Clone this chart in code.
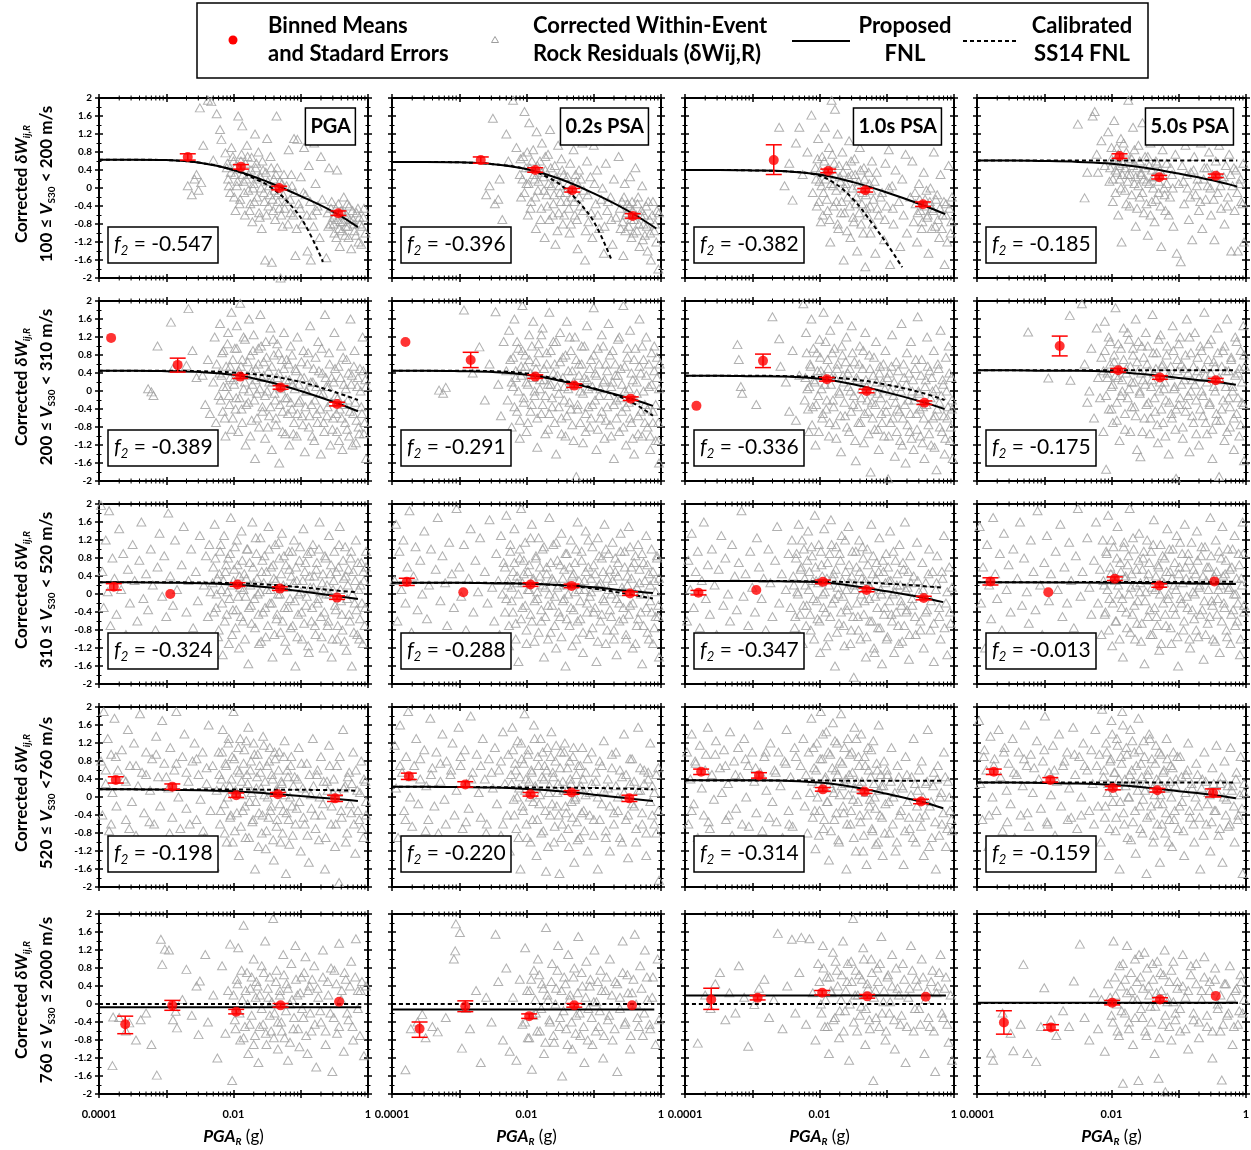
<!DOCTYPE html>
<html><head><meta charset="utf-8">
<script src="https://cdn.jsdelivr.net/npm/echarts@6/dist/echarts.min.js"></script>
<style>html,body{margin:0;padding:0;background:#fff}#c{width:1251px;height:1150px}</style>
</head><body><div id="c"></div>
<script>
// ---------- DATA (x values are log10 of PGA_R in g) ----------
const periods = ['PGA', '0.2s PSA', '1.0s PSA', '5.0s PSA'];
const vsLow = ['100', '200', '310', '520', '760'];
const vsHigh = [' < 200 m/s', ' < 310 m/s', ' < 520 m/s', ' <760 m/s', ' \u2264 2000 m/s'];
const f2Row1 = ['-0.547', '-0.396', '-0.382', '-0.185'];
const f2Row2 = ['-0.389', '-0.291', '-0.336', '-0.175'];
const f2Row3 = ['-0.324', '-0.288', '-0.347', '-0.013'];
const f2Row4 = ['-0.198', '-0.220', '-0.314', '-0.159'];
const xTickLabels = ['0.0001', '0.01', '1'];

// corrected within-event rock residuals [log10 PGA, residual] - outer/sparse points
const tri11 = [[-2.68,0.05],[-2.62,-0.15],[-2.58,0.2],[-2.55,0.3],[-2.52,-0.05],[-2.48,0.12],[-2.45,0.95],[-2.5,1.78],[-2.38,1.95],[-2.33,1.92],[-2.3,0.62],[-2.25,1.65],[-2.2,1.3],[-2.18,1.08],[-2.12,0.78],[-2.1,0.45],[-2.08,0.2],[-2.05,-0.1],[-2.03,0.9],[-2.0,0.6],[-1.98,0.3],[-1.97,-0.5],[-1.95,0.05],[-1.93,1.6],[-1.92,0.42],[-1.9,-0.25],[-1.88,0.75],[-1.87,1.38],[-1.85,0.15],[-1.83,-0.6],[-1.82,0.55],[-1.8,0.95],[-1.78,-0.05],[-1.77,0.3],[-1.75,-0.35],[-1.73,0.68],[-1.72,-0.75],[-1.7,0.1],[-1.68,1.2],[-1.67,0.45],[-1.65,-0.2],[-1.63,0.8],[-1.62,-0.55],[-1.6,0.25],[-1.58,-0.9],[-1.57,0.6],[-1.55,-0.1],[-1.53,-1.6],[-1.52,0.35],[-1.5,1.1],[-1.48,-0.4],[-1.47,0.05],[-1.45,0.7],[-1.43,-1.65],[-1.42,-0.25],[-1.4,0.2],[-1.38,-0.7],[-1.36,1.6],[-1.35,0.45],[-1.33,-0.1],[-1.32,-0.45],[-1.3,-2.0],[-1.28,0.1],[-1.27,-0.85],[-1.25,0.3],[-1.22,-0.3],[-1.18,0.85],[-1.15,-0.55],[-1.13,0.05],[-1.1,1.1],[-1.08,-1.5],[-1.05,1.08],[-1.03,-0.35],[-1.0,0.25],[-0.98,-0.8],[-0.95,0.9],[-0.93,-0.15],[-0.9,-1.4],[-0.88,0.5],[-0.85,-1.6],[-0.83,-0.6],[-0.8,1.0],[-0.78,0.1],[-0.75,-0.4],[-0.72,-1.1],[-0.7,0.7],[-0.68,-0.25],[-0.62,-1.55],[-0.6,-0.55],[-0.58,0.45],[-0.56,-0.8],[-0.54,-0.3],[-0.52,-0.65],[-0.5,-1.0],[-0.48,-0.45],[-0.46,0.4],[-0.45,-0.7],[-0.43,-0.9],[-0.42,-1.3],[-0.4,-0.5],[-0.38,-0.75],[-0.36,-0.2],[-0.34,-1.05],[-0.32,-0.6],[-0.3,-0.85],[-0.28,-0.4],[-0.25,-1.35],[-0.22,-0.7],[-0.2,-0.95],[-0.17,-0.55],[-0.14,-1.2],[-0.12,-0.8],[-0.1,-1.25],[-0.07,-0.65],[-0.04,-1.0]];
const tri12 = [[-2.6,-0.15],[-2.55,0.05],[-2.5,1.55],[-2.47,-0.35],[-2.42,-0.25],[-2.4,0.2],[-2.36,-0.7],[-2.3,1.2],[-2.27,0.6],[-2.2,1.95],[-2.15,0.9],[-2.1,0.3],[-2.08,-0.2],[-2.05,0.7],[-2.03,1.7],[-2.0,0.1],[-1.98,-0.6],[-1.96,1.45],[-1.95,0.45],[-1.93,-0.3],[-1.9,0.85],[-1.88,0.2],[-1.86,-0.9],[-1.85,1.25],[-1.83,-0.05],[-1.8,0.6],[-1.78,-0.45],[-1.77,1.0],[-1.75,0.25],[-1.73,-1.1],[-1.72,0.4],[-1.7,-0.15],[-1.68,0.75],[-1.66,-0.7],[-1.65,1.3],[-1.63,0.05],[-1.6,-0.35],[-1.58,0.5],[-1.57,-1.25],[-1.55,0.2],[-1.53,0.95],[-1.52,-0.55],[-1.5,-0.1],[-1.48,0.65],[-1.46,-0.8],[-1.45,0.3],[-1.43,1.15],[-1.4,-0.3],[-1.38,0.1],[-1.36,-1.0],[-1.35,0.55],[-1.33,-0.2],[-1.3,0.85],[-1.28,-0.6],[-1.26,0.15],[-1.24,-1.35],[-1.22,0.4],[-1.2,-0.4],[-1.17,1.0],[-1.15,-0.05],[-1.13,-1.6],[-1.1,0.6],[-1.08,-0.75],[-1.05,0.25],[-1.02,-1.1],[-1.0,0.95],[-0.97,-0.35],[-0.95,0.4],[-0.92,-0.9],[-0.9,1.2],[-0.87,0.0],[-0.85,-1.45],[-0.82,0.55],[-0.8,-0.5],[-0.77,1.05],[-0.75,-0.2],[-0.72,-1.25],[-0.7,0.2],[-0.67,-0.65],[-0.63,0.7],[-0.6,-0.9],[-0.58,-0.3],[-0.56,-1.5],[-0.54,0.1],[-0.52,-0.6],[-0.5,-0.35],[-0.48,-0.85],[-0.46,0.25],[-0.44,-1.1],[-0.42,-0.5],[-0.4,-0.7],[-0.38,0.45],[-0.36,-0.95],[-0.34,-0.2],[-0.32,-1.3],[-0.3,-0.6],[-0.28,0.05],[-0.26,-0.8],[-0.24,-1.05],[-0.22,-0.4],[-0.2,-1.4],[-0.17,-0.7],[-0.15,-1.6],[-0.12,-0.3],[-0.1,-0.95],[-0.07,-1.2],[-0.04,-1.8],[-0.03,-0.55]];
const tri13 = [[-2.6,1.35],[-2.52,0.05],[-2.45,0.55],[-2.4,-0.27],[-2.35,1.0],[-2.3,1.35],[-2.25,0.3],[-2.18,0.8],[-2.12,1.62],[-2.1,-0.1],[-2.06,0.45],[-2.04,-0.4],[-2.02,1.1],[-2.0,0.15],[-1.98,-0.75],[-1.96,0.7],[-1.94,-0.1],[-1.92,1.35],[-1.9,0.35],[-1.88,-0.5],[-1.86,0.9],[-1.84,-1.2],[-1.82,1.95],[-1.8,0.05],[-1.78,0.55],[-1.77,1.75],[-1.75,-0.3],[-1.73,1.2],[-1.72,-0.9],[-1.7,0.25],[-1.68,-0.55],[-1.66,0.8],[-1.64,-1.6],[-1.62,0.0],[-1.6,0.5],[-1.58,-0.2],[-1.56,1.05],[-1.54,-1.1],[-1.52,0.3],[-1.5,-0.65],[-1.48,0.65],[-1.46,-0.35],[-1.44,-1.4],[-1.42,0.15],[-1.4,0.9],[-1.38,-0.8],[-1.36,-0.1],[-1.34,0.45],[-1.32,-1.75],[-1.3,-0.45],[-1.28,1.3],[-1.26,0.1],[-1.24,-1.0],[-1.22,0.6],[-1.2,-0.25],[-1.17,-1.45],[-1.15,0.35],[-1.12,-0.6],[-1.1,1.1],[-1.07,-0.1],[-1.04,-1.15],[-1.02,0.55],[-1.0,-0.4],[-0.97,0.85],[-0.95,-1.7],[-0.92,0.05],[-0.9,-0.8],[-0.87,0.4],[-0.85,1.3],[-0.82,-0.3],[-0.8,-1.3],[-0.77,0.2],[-0.75,-0.6],[-0.72,0.75],[-0.7,-1.0],[-0.65,-0.2],[-0.62,0.6],[-0.6,-0.75],[-0.57,-0.35],[-0.55,-1.2],[-0.52,0.1],[-0.5,-0.5],[-0.48,-0.9],[-0.45,0.35],[-0.43,-0.25],[-0.4,-0.65],[-0.38,-1.45],[-0.35,0.0],[-0.33,-0.45],[-0.3,0.8],[-0.28,-0.85],[-0.25,-0.15],[-0.22,-1.1],[-0.2,0.3],[-0.17,-0.6],[-0.14,-1.7],[-0.12,-0.35],[-0.08,0.5],[-0.05,-1.0],[-0.03,-0.2]];
const tri14 = [[-2.5,1.42],[-2.4,-0.22],[-2.36,0.35],[-2.28,1.6],[-2.25,1.7],[-2.22,0.75],[-2.2,0.35],[-2.15,1.05],[-2.1,0.5],[-2.05,1.25],[-2.03,0.15],[-2.0,0.65],[-1.98,-0.3],[-1.96,1.5],[-1.94,0.4],[-1.92,0.9],[-1.9,-0.6],[-1.88,0.2],[-1.86,1.1],[-1.85,-1.2],[-1.83,0.55],[-1.8,-0.05],[-1.78,0.8],[-1.76,0.3],[-1.75,1.95],[-1.73,-0.4],[-1.7,0.65],[-1.68,1.35],[-1.66,0.1],[-1.64,-0.85],[-1.62,0.45],[-1.6,0.95],[-1.58,-0.2],[-1.56,0.3],[-1.54,1.45],[-1.52,-0.55],[-1.5,0.7],[-1.48,0.15],[-1.46,-1.05],[-1.44,0.5],[-1.42,1.0],[-1.4,-0.3],[-1.38,0.25],[-1.36,-0.75],[-1.34,0.6],[-1.32,1.2],[-1.3,-0.1],[-1.28,0.4],[-1.26,-1.3],[-1.24,0.85],[-1.22,0.0],[-1.2,-0.5],[-1.18,0.55],[-1.15,1.3],[-1.13,-0.2],[-1.1,0.3],[-1.08,-0.85],[-1.05,0.75],[-1.03,-1.45],[-1.0,0.1],[-0.97,-1.64],[-0.95,0.5],[-0.92,-0.35],[-0.9,0.95],[-0.87,0.0],[-0.85,-0.7],[-0.82,0.35],[-0.8,-1.15],[-0.77,0.7],[-0.75,-0.15],[-0.72,0.2],[-0.7,-0.5],[-0.67,1.0],[-0.65,-0.9],[-0.62,0.45],[-0.6,-0.25],[-0.57,0.05],[-0.55,0.8],[-0.52,-0.6],[-0.5,0.3],[-0.47,-1.15],[-0.45,0.6],[-0.42,-0.1],[-0.4,0.95],[-0.37,-0.45],[-0.35,0.2],[-0.32,-0.8],[-0.3,0.5],[-0.27,-0.2],[-0.25,0.75],[-0.22,-1.4],[-0.2,0.05],[-0.17,-0.5],[-0.15,0.4],[-0.12,-1.4],[-0.1,0.1],[-0.07,-0.3],[-0.04,0.55],[-0.03,-1.2]];
const tri21 = [[-3.27,0.05],[-3.22,-0.02],[-3.19,-0.1],[-3.13,1.0],[-2.93,1.53],[-2.9,0.5],[-2.7,0.57],[-2.67,1.83],[-2.61,0.9],[-2.55,0.3],[-2.46,0.35],[-2.42,-0.3],[-2.38,0.7],[-2.35,-0.5],[-2.3,0.2],[-2.28,1.2],[-2.26,-0.7],[-2.25,0.6],[-2.22,-0.1],[-2.2,1.5],[-2.18,0.35],[-2.16,-0.45],[-2.15,0.9],[-2.12,-1.0],[-2.1,0.1],[-2.08,1.3],[-2.06,-0.3],[-2.05,0.55],[-2.03,1.75],[-2.01,-0.6],[-2.0,0.25],[-1.98,0.95],[-1.96,-0.15],[-1.95,1.45],[-1.93,-0.9],[-1.92,0.45],[-1.9,1.95],[-1.88,-0.4],[-1.87,0.7],[-1.85,0.05],[-1.83,1.15],[-1.82,-1.2],[-1.8,0.35],[-1.78,-0.25],[-1.77,1.6],[-1.75,0.8],[-1.73,-0.65],[-1.72,0.15],[-1.7,1.25],[-1.68,-1.5],[-1.67,0.5],[-1.65,-0.05],[-1.63,0.95],[-1.62,-0.8],[-1.6,1.7],[-1.58,0.3],[-1.57,-0.35],[-1.55,0.65],[-1.53,-1.05],[-1.52,1.1],[-1.5,0.0],[-1.48,0.45],[-1.47,-0.55],[-1.45,1.4],[-1.43,-1.3],[-1.42,0.2],[-1.4,0.8],[-1.38,-0.2],[-1.37,-0.75],[-1.35,1.05],[-1.33,0.4],[-1.32,-1.6],[-1.3,0.05],[-1.28,0.7],[-1.27,-0.45],[-1.25,1.3],[-1.23,-0.95],[-1.22,0.25],[-1.2,-0.15],[-1.18,0.6],[-1.17,-1.2],[-1.15,1.0],[-1.13,-0.4],[-1.12,0.15],[-1.1,-0.7],[-1.08,0.5],[-1.06,-1.0],[-1.05,1.2],[-1.03,-0.25],[-1.0,0.3],[-0.98,-0.55],[-0.96,0.9],[-0.94,-1.35],[-0.92,0.0],[-0.9,0.6],[-0.88,-0.8],[-0.86,1.45],[-0.84,-0.3],[-0.82,0.2],[-0.8,-1.1],[-0.78,0.75],[-0.76,-0.5],[-0.74,1.1],[-0.72,-0.05],[-0.7,-1.4],[-0.68,0.4],[-0.66,-0.7],[-0.64,1.7],[-0.62,0.1],[-0.6,-0.35],[-0.58,0.85],[-0.56,-1.2],[-0.54,0.3],[-0.52,-0.6],[-0.5,1.3],[-0.48,-0.1],[-0.46,-0.9],[-0.44,0.55],[-0.42,-0.4],[-0.4,1.0],[-0.38,-1.3],[-0.36,0.15],[-0.34,-0.7],[-0.32,0.7],[-0.3,-0.2],[-0.28,-1.0],[-0.26,1.6],[-0.24,0.35],[-0.22,-0.5],[-0.2,0.9],[-0.18,-1.15],[-0.16,0.1],[-0.14,-0.8],[-0.12,0.5],[-0.1,-0.35],[-0.08,1.2],[-0.06,-0.95],[-0.04,0.25],[-0.03,-1.5]];
const tri22 = [[-3.3,0.02],[-3.24,-0.05],[-3.2,0.08],[-2.93,1.8],[-2.8,0.4],[-2.7,0.98],[-2.62,-0.2],[-2.55,0.6],[-2.46,1.76],[-2.42,0.15],[-2.38,-0.55],[-2.34,1.1],[-2.3,0.45],[-2.28,-0.2],[-2.26,1.35],[-2.24,0.7],[-2.22,-0.8],[-2.2,0.1],[-2.18,1.6],[-2.16,0.3],[-2.14,-0.45],[-2.12,0.95],[-2.1,-1.05],[-2.08,0.55],[-2.06,1.9],[-2.04,-0.15],[-2.02,0.8],[-2.0,0.2],[-1.98,-0.7],[-1.96,1.25],[-1.94,0.4],[-1.92,-0.3],[-1.9,1.55],[-1.88,0.0],[-1.86,0.65],[-1.84,-1.25],[-1.82,1.05],[-1.8,0.25],[-1.78,-0.5],[-1.76,1.4],[-1.74,0.5],[-1.72,-0.1],[-1.7,0.85],[-1.68,-0.85],[-1.66,1.75],[-1.64,0.15],[-1.62,-0.35],[-1.6,1.1],[-1.58,0.6],[-1.56,-1.4],[-1.54,0.35],[-1.52,-0.05],[-1.5,1.3],[-1.48,-0.6],[-1.46,0.75],[-1.44,0.1],[-1.42,-1.0],[-1.4,1.55],[-1.38,0.45],[-1.36,-0.25],[-1.34,0.9],[-1.32,-0.75],[-1.3,0.2],[-1.28,1.2],[-1.26,-1.9],[-1.24,-0.4],[-1.22,0.6],[-1.2,0.0],[-1.18,1.0],[-1.16,-1.15],[-1.14,0.3],[-1.12,-0.5],[-1.1,1.45],[-1.08,0.05],[-1.06,-0.8],[-1.04,0.7],[-1.02,-0.3],[-1.0,1.85],[-0.98,0.4],[-0.96,-1.3],[-0.94,0.95],[-0.92,-0.1],[-0.9,-0.6],[-0.88,1.25],[-0.86,0.2],[-0.84,-1.05],[-0.82,0.6],[-0.8,-0.35],[-0.78,1.5],[-0.76,-0.75],[-0.74,0.1],[-0.72,0.9],[-0.7,-1.5],[-0.68,0.35],[-0.66,-0.2],[-0.64,1.15],[-0.62,-0.9],[-0.6,0.5],[-0.58,-0.45],[-0.56,1.9],[-0.54,0.0],[-0.52,-1.2],[-0.5,0.75],[-0.48,-0.25],[-0.46,1.35],[-0.44,-0.7],[-0.42,0.25],[-0.4,-1.4],[-0.38,0.95],[-0.36,-0.05],[-0.34,-0.55],[-0.32,1.6],[-0.3,0.4],[-0.28,-1.0],[-0.26,0.7],[-0.24,-0.3],[-0.22,1.2],[-0.2,-0.8],[-0.18,0.1],[-0.16,-1.3],[-0.14,0.85],[-0.12,-0.45],[-0.1,1.0],[-0.08,-1.1],[-0.06,0.3],[-0.04,-0.7],[-0.03,-1.6],[-0.02,0.6]];
const tri23 = [[-3.22,1.03],[-3.2,0.7],[-3.17,0.1],[-3.15,-0.05],[-2.94,-0.3],[-2.7,1.65],[-2.6,1.16],[-2.58,0.55],[-2.5,0.2],[-2.45,-0.45],[-2.4,0.9],[-2.35,-0.65],[-2.3,0.35],[-2.24,1.94],[-2.22,-0.2],[-2.2,1.3],[-2.18,0.05],[-2.16,-0.9],[-2.14,0.6],[-2.12,1.6],[-2.1,-0.35],[-2.08,0.25],[-2.06,-1.2],[-2.04,0.85],[-2.02,-0.1],[-2.0,1.15],[-1.98,0.45],[-1.96,-0.6],[-1.94,1.75],[-1.92,0.15],[-1.9,-0.4],[-1.88,0.7],[-1.86,-1.0],[-1.84,1.35],[-1.82,0.3],[-1.8,-0.2],[-1.78,0.95],[-1.76,-0.75],[-1.74,0.5],[-1.72,1.6],[-1.7,-0.05],[-1.68,-1.35],[-1.66,0.8],[-1.64,0.2],[-1.62,-0.55],[-1.6,1.2],[-1.58,0.4],[-1.56,-0.9],[-1.54,0.0],[-1.52,1.45],[-1.5,-0.3],[-1.48,0.65],[-1.46,-1.55],[-1.44,0.25],[-1.42,-0.7],[-1.4,1.0],[-1.38,-0.15],[-1.36,0.5],[-1.34,-1.15],[-1.32,1.3],[-1.3,0.1],[-1.28,-0.45],[-1.26,0.8],[-1.24,-1.8],[-1.22,-0.25],[-1.2,0.35],[-1.18,-0.85],[-1.16,1.1],[-1.14,-0.05],[-1.12,-1.3],[-1.1,0.55],[-1.08,-0.5],[-1.06,0.2],[-1.04,-1.0],[-1.02,0.9],[-1.0,-0.3],[-0.98,-1.95],[-0.96,0.4],[-0.94,-0.7],[-0.92,1.25],[-0.9,-0.1],[-0.88,-1.45],[-0.86,0.65],[-0.84,-0.4],[-0.82,0.1],[-0.8,-1.1],[-0.78,1.5],[-0.76,-0.6],[-0.74,0.3],[-0.72,-1.6],[-0.7,0.85],[-0.68,-0.2],[-0.66,-0.9],[-0.64,1.1],[-0.62,0.0],[-0.6,-1.3],[-0.58,0.5],[-0.56,-0.5],[-0.54,1.65],[-0.52,-0.05],[-0.5,-1.0],[-0.48,0.7],[-0.46,-0.35],[-0.44,-1.5],[-0.42,0.25],[-0.4,1.2],[-0.38,-0.75],[-0.36,0.45],[-0.34,-1.2],[-0.32,0.0],[-0.3,0.9],[-0.28,-0.55],[-0.26,-1.75],[-0.24,0.6],[-0.22,-0.25],[-0.2,1.35],[-0.18,-0.9],[-0.16,0.15],[-0.14,-1.4],[-0.12,0.75],[-0.1,-0.6],[-0.08,1.0],[-0.06,-1.1],[-0.04,0.3],[-0.03,-0.4],[-0.02,-1.5]];
const tri24 = [[-3.24,1.31],[-2.94,0.29],[-2.62,1.68],[-2.61,0.24],[-2.44,1.94],[-2.4,0.6],[-2.36,-0.25],[-2.33,0.0],[-2.3,0.95],[-2.26,-0.6],[-2.22,1.4],[-2.2,0.3],[-2.17,-0.15],[-2.15,0.75],[-2.12,-0.9],[-2.1,1.55],[-2.08,-1.74],[-2.06,0.4],[-2.04,-0.4],[-2.02,1.1],[-2.0,0.1],[-1.98,-0.7],[-1.96,0.65],[-1.94,1.85],[-1.92,-0.25],[-1.9,0.3],[-1.88,-1.1],[-1.86,0.95],[-1.84,0.0],[-1.82,1.4],[-1.8,-0.5],[-1.78,0.5],[-1.76,-0.15],[-1.74,1.15],[-1.72,-0.9],[-1.7,0.2],[-1.68,0.8],[-1.66,-0.35],[-1.64,1.6],[-1.62,-1.3],[-1.6,0.45],[-1.58,-0.05],[-1.57,-1.46],[-1.55,1.0],[-1.53,0.25],[-1.51,-0.6],[-1.49,1.3],[-1.47,0.6],[-1.45,-0.25],[-1.43,-0.95],[-1.41,0.1],[-1.39,1.7],[-1.37,0.4],[-1.35,-0.45],[-1.33,0.85],[-1.31,-1.15],[-1.29,0.0],[-1.27,1.25],[-1.25,0.55],[-1.23,-0.7],[-1.21,0.2],[-1.19,-0.2],[-1.17,1.0],[-1.15,-1.4],[-1.13,0.35],[-1.11,-0.5],[-1.09,1.45],[-1.07,0.05],[-1.05,-0.85],[-1.04,-1.94],[-1.02,0.7],[-1.0,-0.3],[-0.98,1.2],[-0.96,0.15],[-0.94,-1.05],[-0.92,0.5],[-0.9,-0.45],[-0.88,1.6],[-0.86,-0.1],[-0.84,-1.35],[-0.82,0.85],[-0.8,0.25],[-0.78,-0.7],[-0.76,1.3],[-0.74,-0.2],[-0.72,0.45],[-0.7,-1.2],[-0.68,1.0],[-0.66,0.0],[-0.64,-0.55],[-0.62,1.75],[-0.6,0.35],[-0.58,-0.95],[-0.56,0.7],[-0.54,-0.3],[-0.52,1.15],[-0.5,-1.5],[-0.48,0.1],[-0.46,0.55],[-0.44,-0.65],[-0.42,1.4],[-0.4,-1.9],[-0.38,0.25],[-0.36,-0.4],[-0.34,0.9],[-0.32,-1.1],[-0.3,0.45],[-0.28,1.6],[-0.26,-0.15],[-0.24,-0.8],[-0.22,0.75],[-0.2,0.1],[-0.18,-1.3],[-0.16,1.2],[-0.14,-0.5],[-0.12,0.4],[-0.1,-1.0],[-0.08,0.9],[-0.06,-0.25],[-0.04,1.45],[-0.03,-1.55],[-0.02,0.55]];
const tri31 = [[-3.97,1.97],[-3.95,0.5],[-3.93,-0.3],[-3.9,1.2],[-3.87,0.05],[-3.85,1.85],[-3.83,-0.7],[-3.8,0.8],[-3.77,0.35],[-3.74,-0.45],[-3.7,1.45],[-3.67,0.1],[-3.64,0.9],[-3.6,-0.9],[-3.57,0.55],[-3.54,-0.2],[-3.5,1.1],[-3.47,0.3],[-3.43,-0.6],[-3.4,0.75],[-3.37,1.6],[-3.34,-0.1],[-3.3,0.45],[-3.27,-0.35],[-3.23,1.0],[-3.2,0.2],[-3.16,-0.8],[-3.13,0.6],[-3.1,1.35],[-3.06,-0.05],[-3.03,0.85],[-3.0,-0.5],[-2.97,1.8],[-2.94,0.4],[-2.9,-0.25],[-2.87,1.2],[-2.84,0.1],[-2.8,-1.1],[-2.77,0.65],[-2.74,1.5],[-2.7,-0.4],[-2.67,0.3],[-2.63,1.0],[-2.6,-0.75],[-2.56,0.5],[-2.53,-0.15],[-2.5,1.3],[-2.47,-1.5],[-2.44,0.2],[-2.41,0.85],[-2.38,-0.5],[-2.36,1.1],[-2.34,0.05],[-2.32,-1.0],[-2.3,0.6],[-2.28,1.55],[-2.26,-0.3],[-2.24,0.35],[-2.22,-0.8],[-2.2,0.95],[-2.18,0.1],[-2.16,-1.35],[-2.14,1.3],[-2.12,0.5],[-2.1,-0.45],[-2.08,0.8],[-2.06,-0.1],[-2.04,1.7],[-2.02,-0.9],[-2.0,0.3],[-1.98,1.05],[-1.96,-0.35],[-1.94,0.65],[-1.92,-1.2],[-1.9,0.15],[-1.88,1.4],[-1.86,-0.6],[-1.84,0.45],[-1.82,-0.05],[-1.8,1.0],[-1.78,-1.55],[-1.76,0.7],[-1.74,-0.25],[-1.72,1.6],[-1.7,0.25],[-1.68,-0.75],[-1.66,0.9],[-1.64,0.0],[-1.62,-1.1],[-1.6,1.25],[-1.58,0.5],[-1.56,-0.4],[-1.54,0.85],[-1.52,-0.95],[-1.5,0.1],[-1.48,1.5],[-1.46,-0.2],[-1.44,0.6],[-1.42,-1.4],[-1.4,0.35],[-1.38,1.1],[-1.36,-0.55],[-1.34,0.0],[-1.32,0.8],[-1.3,-0.85],[-1.28,1.35],[-1.26,0.2],[-1.24,-0.3],[-1.22,0.65],[-1.2,-1.25],[-1.18,0.95],[-1.16,-0.1],[-1.14,0.4],[-1.12,-0.7],[-1.1,1.2],[-1.08,-1.6],[-1.06,0.3],[-1.04,-0.45],[-1.02,0.75],[-1.0,0.05],[-0.98,-1.0],[-0.96,1.45],[-0.94,0.5],[-0.92,-0.25],[-0.9,0.9],[-0.88,-1.3],[-0.86,0.15],[-0.84,-0.6],[-0.82,1.1],[-0.8,0.4],[-0.78,-0.9],[-0.76,0.7],[-0.74,-0.1],[-0.72,1.6],[-0.7,-0.5],[-0.68,0.25],[-0.66,-1.2],[-0.64,0.85],[-0.62,0.0],[-0.6,-0.7],[-0.58,1.3],[-0.56,0.45],[-0.54,-1.4],[-0.52,0.1],[-0.5,0.95],[-0.48,-0.35],[-0.46,-1.0],[-0.44,0.6],[-0.42,1.5],[-0.4,-0.15],[-0.38,-0.8],[-0.36,0.35],[-0.34,1.05],[-0.32,-1.25],[-0.3,0.2],[-0.28,-0.45],[-0.26,0.8],[-0.24,-1.6],[-0.22,0.5],[-0.2,-0.2],[-0.18,1.2],[-0.16,-0.9],[-0.14,0.1],[-0.12,-0.55],[-0.1,0.7],[-0.08,-1.1],[-0.06,0.3],[-0.04,-0.3],[-0.03,0.95]];
const tri32 = [[-3.96,0.3],[-3.94,1.55],[-3.92,-0.6],[-3.89,0.95],[-3.86,0.1],[-3.83,1.2],[-3.8,-0.2],[-3.77,0.6],[-3.74,1.85],[-3.71,-0.85],[-3.68,0.4],[-3.65,1.05],[-3.62,-0.35],[-3.58,0.75],[-3.55,0.0],[-3.52,1.4],[-3.48,-0.55],[-3.45,0.2],[-3.42,1.0],[-3.38,-1.0],[-3.35,0.55],[-3.32,1.7],[-3.28,-0.15],[-3.25,0.85],[-3.21,0.25],[-3.18,-0.7],[-3.15,1.15],[-3.11,0.45],[-3.08,-0.3],[-3.04,1.9],[-3.0,0.6],[-2.97,-0.05],[-2.93,1.1],[-2.9,-0.8],[-2.86,0.35],[-2.83,1.45],[-2.79,-0.4],[-2.76,0.75],[-2.72,0.05],[-2.69,1.25],[-2.65,-1.3],[-2.62,0.5],[-2.58,-0.2],[-2.55,1.65],[-2.51,0.15],[-2.48,-0.6],[-2.45,0.9],[-2.42,0.3],[-2.4,-0.9],[-2.38,1.3],[-2.36,0.0],[-2.34,0.7],[-2.32,-0.4],[-2.3,1.75],[-2.28,0.2],[-2.26,-1.15],[-2.24,0.95],[-2.22,-0.15],[-2.2,0.5],[-2.18,1.45],[-2.16,-0.65],[-2.14,0.25],[-2.12,-1.5],[-2.1,0.8],[-2.08,1.9],[-2.06,-0.3],[-2.04,0.45],[-2.02,1.15],[-2.0,-0.8],[-1.98,0.1],[-1.96,0.65],[-1.94,-0.45],[-1.92,1.55],[-1.9,0.3],[-1.88,-1.05],[-1.86,0.85],[-1.84,-0.1],[-1.82,1.25],[-1.8,0.4],[-1.78,-0.6],[-1.76,1.0],[-1.74,-1.4],[-1.72,0.15],[-1.7,0.6],[-1.68,-0.25],[-1.66,1.7],[-1.64,-0.85],[-1.62,0.35],[-1.6,1.1],[-1.58,-0.05],[-1.56,-1.2],[-1.54,0.75],[-1.52,0.2],[-1.5,-0.5],[-1.48,1.35],[-1.46,-0.15],[-1.44,0.55],[-1.42,-1.6],[-1.4,0.9],[-1.38,0.0],[-1.36,-0.7],[-1.34,1.2],[-1.32,0.4],[-1.3,-0.35],[-1.28,0.7],[-1.26,-1.0],[-1.24,1.6],[-1.22,0.1],[-1.2,-0.55],[-1.18,0.95],[-1.16,-1.3],[-1.14,0.3],[-1.12,1.4],[-1.1,-0.2],[-1.08,0.6],[-1.06,-0.9],[-1.04,0.05],[-1.02,1.05],[-1.0,-0.4],[-0.98,0.45],[-0.96,-1.5],[-0.94,1.25],[-0.92,0.2],[-0.9,-0.6],[-0.88,0.8],[-0.86,-0.1],[-0.84,1.55],[-0.82,-1.1],[-0.8,0.35],[-0.78,0.9],[-0.76,-0.35],[-0.74,0.0],[-0.72,1.15],[-0.7,-0.8],[-0.68,0.5],[-0.66,-1.35],[-0.64,0.7],[-0.62,-0.2],[-0.6,1.35],[-0.58,0.15],[-0.56,-0.55],[-0.54,0.95],[-0.52,-1.0],[-0.5,0.4],[-0.48,1.5],[-0.46,-0.25],[-0.44,0.6],[-0.42,-1.2],[-0.4,0.05],[-0.38,0.85],[-0.36,-0.7],[-0.34,1.1],[-0.32,0.25],[-0.3,-0.4],[-0.28,-1.55],[-0.26,0.7],[-0.24,0.0],[-0.22,1.3],[-0.2,-0.85],[-0.18,0.45],[-0.16,-0.15],[-0.14,1.0],[-0.12,-1.1],[-0.1,0.3],[-0.08,-0.5],[-0.06,0.8],[-0.04,-0.25],[-0.03,-1.4]];
const tri33 = [[-3.97,-0.6],[-3.95,0.75],[-3.92,0.1],[-3.9,1.35],[-3.87,-0.3],[-3.84,0.5],[-3.81,0.95],[-3.78,-0.75],[-3.75,0.3],[-3.72,1.6],[-3.69,-0.1],[-3.66,0.65],[-3.63,-0.45],[-3.6,1.0],[-3.56,0.2],[-3.53,-0.9],[-3.5,0.55],[-3.46,1.3],[-3.43,-0.25],[-3.4,0.8],[-3.36,0.0],[-3.33,-0.6],[-3.3,1.1],[-3.26,0.4],[-3.23,-0.35],[-3.2,0.7],[-3.16,1.85],[-3.13,-0.05],[-3.1,0.45],[-3.06,-0.7],[-3.03,0.95],[-3.0,0.15],[-2.96,-0.4],[-2.93,1.25],[-2.9,0.6],[-2.86,-0.1],[-2.83,0.35],[-2.8,-0.8],[-2.76,1.0],[-2.73,0.25],[-2.7,-0.5],[-2.66,0.75],[-2.63,1.5],[-2.6,-0.2],[-2.56,0.45],[-2.53,-1.0],[-2.5,0.1],[-2.46,0.9],[-2.43,-0.3],[-2.41,1.2],[-2.39,0.4],[-2.37,-0.75],[-2.35,0.8],[-2.33,0.05],[-2.31,1.55],[-2.29,-0.45],[-2.27,0.6],[-2.25,-1.1],[-2.23,1.0],[-2.21,0.2],[-2.19,-0.25],[-2.17,1.4],[-2.15,0.5],[-2.13,-0.8],[-2.11,0.85],[-2.09,-0.1],[-2.07,1.75],[-2.05,0.3],[-2.03,-0.55],[-2.01,1.1],[-1.99,-1.3],[-1.97,0.65],[-1.95,0.0],[-1.93,1.45],[-1.91,-0.4],[-1.89,0.35],[-1.87,-0.95],[-1.85,0.9],[-1.83,1.65],[-1.81,-0.2],[-1.79,0.45],[-1.77,-1.6],[-1.75,1.05],[-1.73,0.15],[-1.71,-0.65],[-1.69,0.75],[-1.67,1.3],[-1.65,-0.05],[-1.63,-1.15],[-1.61,0.5],[-1.59,-0.35],[-1.57,1.5],[-1.55,0.25],[-1.53,-0.8],[-1.51,0.95],[-1.49,-1.85],[-1.47,0.1],[-1.45,0.6],[-1.43,-0.5],[-1.41,1.2],[-1.39,-1.0],[-1.37,0.35],[-1.35,0.8],[-1.33,-0.15],[-1.31,-1.4],[-1.29,1.0],[-1.27,0.2],[-1.25,-0.6],[-1.23,1.55],[-1.21,0.45],[-1.19,-1.2],[-1.17,-0.05],[-1.15,0.7],[-1.13,-0.75],[-1.11,1.25],[-1.09,0.1],[-1.07,-1.55],[-1.05,0.5],[-1.03,-0.3],[-1.01,0.9],[-0.99,-0.95],[-0.97,0.3],[-0.95,1.4],[-0.93,-0.45],[-0.91,0.0],[-0.89,-1.3],[-0.87,0.75],[-0.85,0.2],[-0.83,-0.7],[-0.81,1.1],[-0.79,-0.15],[-0.77,-1.05],[-0.75,0.55],[-0.73,1.6],[-0.71,-0.4],[-0.69,0.15],[-0.67,-1.45],[-0.65,0.85],[-0.62,-0.25],[-0.6,0.4],[-0.57,-0.9],[-0.55,1.15],[-0.52,0.05],[-0.5,-0.6],[-0.47,0.7],[-0.45,-1.2],[-0.42,0.25],[-0.4,-0.35],[-0.37,1.0],[-0.35,-0.8],[-0.32,0.5],[-0.3,-1.5],[-0.27,0.1],[-0.25,0.85],[-0.22,-0.5],[-0.2,-1.0],[-0.17,0.35],[-0.15,1.3],[-0.12,-0.2],[-0.1,-1.35],[-0.07,0.6],[-0.05,-0.65],[-0.03,0.15]];
const tri34 = [[-3.96,1.5],[-3.94,-0.2],[-3.91,0.6],[-3.88,-1.2],[-3.85,1.1],[-3.82,0.2],[-3.79,-0.55],[-3.76,1.7],[-3.73,0.45],[-3.7,-0.1],[-3.66,0.9],[-3.63,-0.8],[-3.6,1.35],[-3.56,0.1],[-3.53,0.65],[-3.5,-0.4],[-3.46,1.0],[-3.43,-1.5],[-3.4,0.35],[-3.36,1.6],[-3.33,-0.25],[-3.3,0.8],[-3.26,0.05],[-3.23,-0.65],[-3.2,1.2],[-3.16,0.5],[-3.13,-0.35],[-3.1,1.85],[-3.06,0.2],[-3.03,-0.9],[-3.0,0.7],[-2.96,1.3],[-2.93,-0.15],[-2.9,0.45],[-2.86,-1.1],[-2.83,0.95],[-2.8,0.1],[-2.76,1.55],[-2.73,-0.5],[-2.7,0.6],[-2.66,-0.2],[-2.63,1.15],[-2.6,0.3],[-2.56,-0.75],[-2.53,0.85],[-2.5,1.9],[-2.46,-0.05],[-2.43,0.5],[-2.4,-1.3],[-2.36,1.25],[-2.33,0.15],[-2.3,-0.45],[-2.26,0.75],[-2.23,1.6],[-2.2,-0.2],[-2.17,0.55],[-2.15,-0.9],[-2.13,1.2],[-2.11,0.2],[-2.09,-0.4],[-2.07,0.9],[-2.05,1.75],[-2.03,-0.1],[-2.01,0.45],[-1.99,-1.15],[-1.97,1.05],[-1.95,0.3],[-1.93,-0.6],[-1.91,1.5],[-1.89,0.0],[-1.87,0.7],[-1.85,-0.3],[-1.83,-1.4],[-1.81,1.15],[-1.79,0.4],[-1.77,-0.75],[-1.75,0.85],[-1.73,1.9],[-1.71,0.15],[-1.69,-0.45],[-1.67,1.0],[-1.65,-1.0],[-1.63,0.55],[-1.61,-0.15],[-1.59,1.35],[-1.57,0.25],[-1.55,-0.65],[-1.53,0.8],[-1.51,-1.55],[-1.49,0.05],[-1.47,1.2],[-1.45,0.45],[-1.43,-0.35],[-1.41,0.95],[-1.39,-0.9],[-1.37,1.65],[-1.35,0.1],[-1.33,-0.5],[-1.31,0.65],[-1.29,-1.25],[-1.27,1.1],[-1.25,0.3],[-1.23,-0.2],[-1.21,0.8],[-1.19,-0.7],[-1.17,1.45],[-1.15,0.0],[-1.13,0.5],[-1.11,-1.1],[-1.09,1.0],[-1.07,0.2],[-1.05,-0.45],[-1.03,1.3],[-1.01,-1.6],[-0.99,0.6],[-0.97,-0.1],[-0.95,0.9],[-0.93,-0.8],[-0.91,1.55],[-0.89,0.35],[-0.87,-0.3],[-0.85,0.75],[-0.83,-1.2],[-0.81,1.15],[-0.79,0.05],[-0.77,-0.55],[-0.75,0.45],[-0.73,1.4],[-0.71,-0.95],[-0.69,0.2],[-0.67,0.85],[-0.65,-0.35],[-0.63,-1.45],[-0.61,1.05],[-0.59,0.3],[-0.57,-0.65],[-0.55,0.6],[-0.53,1.7],[-0.51,-0.15],[-0.49,-1.0],[-0.47,0.4],[-0.45,1.2],[-0.43,-0.45],[-0.41,0.1],[-0.39,-1.3],[-0.37,0.8],[-0.35,1.5],[-0.33,-0.2],[-0.31,0.45],[-0.29,-0.8],[-0.27,1.0],[-0.25,0.15],[-0.23,-1.1],[-0.21,0.6],[-0.19,-0.35],[-0.17,1.3],[-0.15,0.0],[-0.13,-0.6],[-0.11,0.9],[-0.09,-1.35],[-0.07,0.35],[-0.05,1.6],[-0.03,-0.25]];
const tri41 = [[-3.97,0.8],[-3.95,-0.4],[-3.93,1.9],[-3.9,0.3],[-3.87,1.3],[-3.85,-0.75],[-3.82,0.95],[-3.8,0.1],[-3.77,1.75],[-3.74,-0.2],[-3.72,0.6],[-3.69,-1.05],[-3.66,1.05],[-3.63,0.4],[-3.6,-0.5],[-3.57,1.5],[-3.54,0.7],[-3.51,-0.1],[-3.48,1.2],[-3.45,-0.85],[-3.42,0.25],[-3.39,1.85],[-3.36,0.55],[-3.33,-0.35],[-3.3,1.0],[-3.27,-1.4],[-3.24,0.15],[-3.21,0.85],[-3.18,-0.6],[-3.15,1.35],[-3.12,0.45],[-3.09,-0.2],[-3.06,1.7],[-3.03,0.75],[-3.0,-0.95],[-2.97,0.2],[-2.94,1.1],[-2.91,-0.45],[-2.88,0.6],[-2.85,1.9],[-2.82,0.0],[-2.79,-0.7],[-2.76,0.9],[-2.73,1.4],[-2.7,-0.25],[-2.67,0.35],[-2.64,-1.2],[-2.61,0.8],[-2.58,1.2],[-2.55,-0.5],[-2.52,0.5],[-2.49,-0.05],[-2.46,1.0],[-2.43,-0.9],[-2.4,0.3],[-2.37,1.6],[-2.34,-0.3],[-2.31,0.7],[-2.28,-1.55],[-2.25,0.15],[-2.22,1.0],[-2.2,-0.6],[-2.18,0.4],[-2.16,1.5],[-2.14,-0.15],[-2.12,0.75],[-2.1,-1.0],[-2.08,1.2],[-2.06,0.25],[-2.04,-0.4],[-2.02,0.9],[-2.0,1.9],[-1.98,-0.75],[-1.96,0.1],[-1.94,0.6],[-1.92,-1.3],[-1.9,1.3],[-1.88,0.35],[-1.86,-0.3],[-1.84,1.05],[-1.82,-0.9],[-1.8,0.5],[-1.78,1.55],[-1.76,-0.1],[-1.74,0.8],[-1.72,-0.55],[-1.7,1.2],[-1.68,-1.6],[-1.66,0.2],[-1.64,0.95],[-1.62,-0.35],[-1.6,0.55],[-1.58,-0.8],[-1.56,1.35],[-1.54,0.05],[-1.52,-1.15],[-1.5,0.7],[-1.48,-0.45],[-1.46,1.1],[-1.44,-0.2],[-1.42,0.4],[-1.4,-1.4],[-1.38,0.85],[-1.36,-0.65],[-1.34,0.15],[-1.32,1.0],[-1.3,-1.0],[-1.28,0.3],[-1.26,-0.3],[-1.24,1.25],[-1.22,-1.7],[-1.2,0.6],[-1.18,-0.5],[-1.16,0.0],[-1.14,0.9],[-1.12,-0.85],[-1.09,0.45],[-1.06,-0.25],[-1.03,1.1],[-1.0,-1.2],[-0.97,0.2],[-0.94,-0.6],[-0.91,0.75],[-0.88,-1.45],[-0.85,0.05],[-0.82,1.3],[-0.79,-0.4],[-0.76,0.5],[-0.73,-0.95],[-0.7,0.9],[-0.67,-0.15],[-0.64,-1.6],[-0.61,0.35],[-0.58,1.15],[-0.55,-0.6],[-0.52,0.1],[-0.49,-1.1],[-0.46,0.7],[-0.43,-1.9],[-0.4,-0.3],[-0.37,1.5],[-0.34,0.25],[-0.31,-0.8],[-0.28,0.55],[-0.25,-0.35],[-0.22,1.0],[-0.19,-1.25],[-0.16,0.15],[-0.13,-0.5],[-0.1,0.8],[-0.07,-0.9],[-0.04,0.35],[-0.03,-0.1]];
const tri42 = [[-3.96,1.15],[-3.94,0.2],[-3.91,-0.9],[-3.88,1.6],[-3.85,0.55],[-3.82,-0.3],[-3.79,0.9],[-3.76,1.9],[-3.73,0.0],[-3.7,-0.65],[-3.67,0.7],[-3.64,1.3],[-3.61,-0.15],[-3.58,0.4],[-3.55,-1.1],[-3.52,1.05],[-3.49,0.25],[-3.46,-0.5],[-3.43,1.75],[-3.4,0.65],[-3.37,-0.2],[-3.34,1.0],[-3.31,-0.8],[-3.28,0.35],[-3.25,1.4],[-3.22,-0.05],[-3.19,0.8],[-3.16,-1.3],[-3.13,0.5],[-3.1,1.2],[-3.07,-0.4],[-3.04,0.15],[-3.01,1.55],[-2.98,0.7],[-2.95,-0.7],[-2.92,1.05],[-2.89,0.3],[-2.86,-0.25],[-2.83,1.8],[-2.8,0.55],[-2.77,-1.0],[-2.74,0.95],[-2.71,0.1],[-2.68,-0.45],[-2.65,1.3],[-2.62,0.4],[-2.59,-0.6],[-2.56,0.85],[-2.53,-1.45],[-2.5,0.2],[-2.47,1.1],[-2.44,-0.15],[-2.41,0.6],[-2.38,-0.85],[-2.35,1.45],[-2.32,0.3],[-2.29,-0.4],[-2.27,0.95],[-2.25,-1.2],[-2.23,0.5],[-2.21,1.55],[-2.19,-0.05],[-2.17,0.75],[-2.15,-0.7],[-2.13,1.25],[-2.11,0.2],[-2.09,-1.6],[-2.07,0.85],[-2.05,-0.3],[-2.03,1.85],[-2.01,0.4],[-1.99,-0.9],[-1.97,1.05],[-1.95,0.0],[-1.93,0.6],[-1.91,-0.5],[-1.89,1.6],[-1.87,0.25],[-1.85,-1.3],[-1.83,0.9],[-1.81,-0.15],[-1.79,1.3],[-1.77,0.45],[-1.75,-0.75],[-1.73,0.7],[-1.71,-1.65],[-1.69,1.1],[-1.67,0.1],[-1.65,-0.4],[-1.63,1.45],[-1.61,0.55],[-1.59,-1.0],[-1.57,0.8],[-1.55,-0.2],[-1.53,0.3],[-1.51,-1.7],[-1.49,1.0],[-1.47,-0.6],[-1.45,0.15],[-1.43,1.2],[-1.41,-0.35],[-1.39,0.65],[-1.37,-1.1],[-1.35,0.4],[-1.33,-0.1],[-1.31,0.9],[-1.29,-1.45],[-1.27,0.0],[-1.25,-0.55],[-1.23,0.7],[-1.21,-0.9],[-1.19,0.25],[-1.17,1.1],[-1.15,-0.3],[-1.12,0.55],[-1.09,-1.2],[-1.06,0.1],[-1.03,1.0],[-1.0,-0.5],[-0.97,0.35],[-0.94,-1.6],[-0.91,0.8],[-0.88,-0.15],[-0.85,1.25],[-0.82,-0.75],[-0.79,0.2],[-0.76,-1.2],[-0.73,0.65],[-0.7,-0.35],[-0.67,1.0],[-0.64,0.0],[-0.61,-0.9],[-0.58,0.45],[-0.55,1.4],[-0.52,-0.5],[-0.49,-1.35],[-0.46,0.3],[-0.43,0.85],[-0.4,-0.2],[-0.37,-1.0],[-0.34,1.55],[-0.31,0.15],[-0.28,-0.6],[-0.25,0.6],[-0.22,-1.3],[-0.19,0.4],[-0.16,1.2],[-0.13,-0.4],[-0.1,0.1],[-0.07,-0.8],[-0.04,0.65],[-0.03,-1.85]];
const tri43 = [[-3.97,1.0],[-3.95,-0.6],[-3.92,0.4],[-3.9,1.4],[-3.87,-0.15],[-3.84,0.75],[-3.81,-0.9],[-3.78,1.15],[-3.75,0.2],[-3.72,-0.4],[-3.69,0.95],[-3.66,1.55],[-3.63,-0.7],[-3.6,0.5],[-3.57,-0.05],[-3.54,1.25],[-3.51,-1.2],[-3.48,0.65],[-3.45,0.1],[-3.42,1.05],[-3.39,-0.5],[-3.36,0.3],[-3.33,1.45],[-3.3,-0.85],[-3.27,0.8],[-3.24,-0.25],[-3.21,1.1],[-3.18,0.45],[-3.15,-0.6],[-3.12,1.3],[-3.09,0.0],[-3.06,0.7],[-3.03,-1.0],[-3.0,1.0],[-2.97,0.35],[-2.94,-0.35],[-2.91,1.6],[-2.88,0.55],[-2.85,-0.75],[-2.82,0.9],[-2.79,0.15],[-2.76,-1.3],[-2.73,1.2],[-2.7,-0.1],[-2.67,0.6],[-2.64,-0.55],[-2.61,1.0],[-2.58,0.25],[-2.55,-0.9],[-2.52,0.8],[-2.49,1.5],[-2.46,-0.3],[-2.43,0.45],[-2.4,-0.65],[-2.37,1.1],[-2.34,0.05],[-2.31,-1.1],[-2.28,0.7],[-2.24,1.3],[-2.22,-0.2],[-2.2,0.5],[-2.18,-0.8],[-2.16,1.0],[-2.14,0.1],[-2.12,1.75],[-2.1,-0.45],[-2.08,0.65],[-2.06,-1.15],[-2.04,1.2],[-2.02,0.3],[-2.0,-0.3],[-1.98,1.9],[-1.96,0.85],[-1.94,-0.7],[-1.92,0.4],[-1.9,1.45],[-1.88,-0.1],[-1.86,-1.4],[-1.84,0.95],[-1.82,0.2],[-1.8,1.65],[-1.78,-0.5],[-1.76,0.6],[-1.74,1.2],[-1.72,-0.95],[-1.7,0.05],[-1.68,1.85],[-1.66,0.75],[-1.64,-0.35],[-1.62,0.3],[-1.6,-1.6],[-1.58,1.3],[-1.56,0.5],[-1.54,-0.6],[-1.52,1.0],[-1.5,-0.05],[-1.48,1.55],[-1.46,-1.2],[-1.44,0.35],[-1.42,0.9],[-1.4,-0.4],[-1.38,1.4],[-1.36,0.15],[-1.34,-0.85],[-1.32,0.7],[-1.3,-1.5],[-1.28,1.1],[-1.26,-0.2],[-1.24,0.45],[-1.22,-0.7],[-1.2,1.25],[-1.18,0.0],[-1.16,-1.05],[-1.14,0.6],[-1.12,1.6],[-1.1,-0.4],[-1.08,0.25],[-1.06,-1.3],[-1.04,0.8],[-1.02,-0.15],[-0.99,0.5],[-0.96,-0.8],[-0.93,1.1],[-0.9,0.0],[-0.87,-1.2],[-0.84,0.7],[-0.81,-0.4],[-0.78,0.25],[-0.75,-1.5],[-0.72,0.9],[-0.69,-0.1],[-0.66,-0.7],[-0.63,0.45],[-0.6,1.3],[-0.57,-1.0],[-0.54,0.15],[-0.51,-0.45],[-0.48,0.8],[-0.45,-1.3],[-0.42,0.3],[-0.39,1.5],[-0.36,-0.2],[-0.33,-0.9],[-0.3,0.55],[-0.27,-1.6],[-0.24,0.7],[-0.21,0.0],[-0.18,-0.6],[-0.15,1.0],[-0.12,-1.1],[-0.09,0.35],[-0.06,-0.3],[-0.03,-0.75]];
const tri44 = [[-3.97,1.7],[-3.95,0.3],[-3.92,-0.5],[-3.89,1.05],[-3.86,0.6],[-3.83,-1.1],[-3.8,1.35],[-3.77,0.0],[-3.74,0.85],[-3.71,-0.3],[-3.68,1.5],[-3.65,0.45],[-3.62,-0.75],[-3.59,1.1],[-3.56,0.15],[-3.53,0.75],[-3.5,-0.15],[-3.47,1.3],[-3.44,-0.9],[-3.41,0.5],[-3.38,1.0],[-3.35,-0.4],[-3.32,0.25],[-3.29,1.6],[-3.26,0.7],[-3.23,-0.65],[-3.2,0.95],[-3.17,0.1],[-3.14,-1.05],[-3.11,1.25],[-3.08,0.4],[-3.05,-0.25],[-3.02,0.8],[-2.99,1.8],[-2.96,-0.55],[-2.93,0.55],[-2.9,0.05],[-2.87,1.15],[-2.84,-0.85],[-2.81,0.35],[-2.78,1.4],[-2.75,-0.2],[-2.72,0.7],[-2.69,-1.0],[-2.66,1.0],[-2.63,0.2],[-2.6,-0.45],[-2.57,1.55],[-2.54,0.5],[-2.51,-0.7],[-2.48,0.9],[-2.45,0.0],[-2.42,1.2],[-2.39,-1.2],[-2.36,0.6],[-2.33,-0.3],[-2.3,1.05],[-2.28,0.3],[-2.26,-0.6],[-2.24,1.5],[-2.22,0.7],[-2.2,-0.2],[-2.18,0.95],[-2.16,-1.0],[-2.14,1.95],[-2.12,0.45],[-2.1,-0.45],[-2.08,1.2],[-2.06,0.1],[-2.04,-1.3],[-2.02,0.8],[-2.0,1.7],[-1.98,-0.1],[-1.96,0.55],[-1.94,-0.75],[-1.92,1.3],[-1.9,0.25],[-1.88,-1.6],[-1.86,0.9],[-1.84,1.9],[-1.82,-0.35],[-1.8,0.4],[-1.78,1.1],[-1.76,-0.9],[-1.74,0.0],[-1.72,1.5],[-1.7,0.6],[-1.68,-0.55],[-1.66,1.0],[-1.64,-1.25],[-1.62,0.3],[-1.6,1.75],[-1.58,-0.2],[-1.56,0.75],[-1.54,-0.8],[-1.52,1.25],[-1.5,0.15],[-1.48,-1.7],[-1.46,0.5],[-1.44,1.4],[-1.42,-0.4],[-1.4,0.85],[-1.38,-1.0],[-1.36,0.05],[-1.34,1.15],[-1.32,-0.6],[-1.3,0.35],[-1.28,-1.45],[-1.26,0.95],[-1.24,-0.15],[-1.22,0.6],[-1.2,-0.8],[-1.18,1.3],[-1.16,0.2],[-1.14,-0.5],[-1.12,0.7],[-1.1,-1.1],[-1.08,1.0],[-1.06,-0.3],[-1.04,0.4],[-1.01,-0.7],[-0.98,0.9],[-0.95,-0.1],[-0.92,-1.3],[-0.89,0.5],[-0.86,1.2],[-0.83,-0.45],[-0.8,0.2],[-0.77,-1.0],[-0.74,0.75],[-0.71,-0.2],[-0.68,-1.6],[-0.65,0.4],[-0.62,1.0],[-0.59,-0.6],[-0.56,0.1],[-0.53,-1.2],[-0.5,0.65],[-0.47,-0.3],[-0.44,1.15],[-0.41,-0.85],[-0.38,0.3],[-0.35,-1.45],[-0.32,0.8],[-0.29,-0.05],[-0.26,-0.65],[-0.23,1.1],[-0.2,0.25],[-0.17,-1.0],[-0.14,0.55],[-0.11,-0.4],[-0.08,0.9],[-0.05,-1.7],[-0.03,0.1]];
const tri51 = [[-3.8,-1.37],[-3.79,-0.29],[-3.7,-0.3],[-3.6,-0.6],[-3.55,-0.42],[-3.45,-0.8],[-3.38,-0.35],[-3.3,-0.2],[-3.22,-0.9],[-3.14,-1.58],[-3.08,1.44],[-3.06,0.88],[-3.02,1.22],[-2.96,1.2],[-2.9,-0.35],[-2.86,-0.16],[-2.84,-0.53],[-2.76,0.1],[-2.7,0.77],[-2.62,-0.25],[-2.55,0.4],[-2.52,-0.68],[-2.5,0.51],[-2.42,1.1],[-2.38,-0.4],[-2.3,0.2],[-2.24,-1.2],[-2.17,0.85],[-2.12,-0.65],[-2.08,0.3],[-2.05,1.33],[-2.02,-1.7],[-1.98,-0.35],[-1.95,0.55],[-1.93,1.25],[-1.9,-0.8],[-1.87,0.1],[-1.85,1.75],[-1.83,-0.5],[-1.8,0.7],[-1.78,-1.1],[-1.75,0.35],[-1.73,-0.25],[-1.7,1.0],[-1.68,-0.7],[-1.66,0.5],[-1.63,-1.3],[-1.61,0.2],[-1.58,0.85],[-1.56,-0.45],[-1.53,1.4],[-1.51,-0.9],[-1.48,0.15],[-1.46,0.6],[-1.44,-0.6],[-1.41,1.9],[-1.39,-0.2],[-1.36,0.75],[-1.34,-1.0],[-1.31,0.3],[-1.29,-0.4],[-1.26,1.1],[-1.24,-0.75],[-1.21,0.45],[-1.19,-1.25],[-1.16,0.0],[-1.14,0.9],[-1.11,-0.55],[-1.08,1.3],[-1.05,0.2],[-1.02,-0.95],[-0.99,0.6],[-0.96,-0.3],[-0.93,1.05],[-0.9,-1.1],[-0.87,0.4],[-0.84,-0.6],[-0.8,0.85],[-0.77,-1.4],[-0.74,0.15],[-0.7,-0.4],[-0.67,1.2],[-0.63,-0.9],[-0.6,0.5],[-0.56,-0.2],[-0.53,-1.5],[-0.5,0.75],[-0.46,-0.65],[-0.43,1.35],[-0.4,0.1],[-0.36,-1.05],[-0.33,0.55],[-0.29,-0.35],[-0.25,0.95],[-0.22,-0.8],[-0.18,1.45],[-0.15,0.3],[-0.12,-0.7],[-0.09,0.5],[-0.06,-1.15],[-0.03,0.4]];
const tri52 = [[-3.8,-1.46],[-3.72,-0.55],[-3.62,-0.4],[-3.55,-0.23],[-3.5,-0.75],[-3.4,-0.5],[-3.32,-0.62],[-3.2,-0.3],[-3.08,1.0],[-3.06,1.18],[-3.05,1.78],[-2.99,1.59],[-2.96,-0.98],[-2.9,-0.1],[-2.84,-0.55],[-2.75,0.3],[-2.68,-1.3],[-2.6,0.15],[-2.52,-0.4],[-2.46,1.55],[-2.42,0.5],[-2.35,-0.8],[-2.3,0.8],[-2.25,-1.05],[-2.2,0.15],[-2.15,-1.25],[-2.1,0.55],[-2.06,-0.45],[-2.02,1.25],[-1.98,-0.75],[-1.95,0.3],[-1.92,-1.45],[-1.89,0.75],[-1.86,-0.2],[-1.83,1.0],[-1.8,-0.6],[-1.77,0.45],[-1.74,-1.1],[-1.71,1.7],[-1.68,0.1],[-1.65,-0.4],[-1.62,0.9],[-1.59,-0.85],[-1.56,0.35],[-1.53,1.3],[-1.5,-0.3],[-1.47,-1.6],[-1.44,0.6],[-1.41,-0.55],[-1.38,1.1],[-1.35,0.2],[-1.32,-1.0],[-1.29,0.8],[-1.26,-0.25],[-1.23,1.5],[-1.2,-0.7],[-1.17,0.4],[-1.14,-1.3],[-1.11,0.95],[-1.08,-0.1],[-1.05,0.55],[-1.02,-0.9],[-0.99,1.2],[-0.96,0.05],[-0.93,-0.5],[-0.9,0.75],[-0.86,-1.2],[-0.83,0.3],[-0.79,-0.35],[-0.76,1.0],[-0.72,-0.8],[-0.68,0.5],[-0.65,-1.5],[-0.61,0.15],[-0.57,1.4],[-0.54,-0.45],[-0.5,0.65],[-0.46,-1.0],[-0.43,0.25],[-0.39,1.55],[-0.35,-0.3],[-0.31,0.85],[-0.27,-0.7],[-0.24,1.2],[-0.2,0.1],[-0.16,-0.55],[-0.12,0.6],[-0.08,-0.9],[-0.05,1.0],[-0.03,-0.35]];
const tri53 = [[-3.81,-0.87],[-3.7,0.2],[-3.62,-0.1],[-3.55,0.45],[-3.48,0.7],[-3.4,-0.35],[-3.34,0.25],[-3.25,-0.2],[-3.2,0.85],[-3.12,0.15],[-3.06,-0.94],[-2.97,-0.01],[-2.9,0.35],[-2.82,0.55],[-2.75,-0.3],[-2.68,0.1],[-2.62,1.57],[-2.55,-0.55],[-2.48,0.4],[-2.41,1.44],[-2.36,-0.2],[-2.3,0.7],[-2.27,1.48],[-2.2,-0.45],[-2.15,1.45],[-2.1,0.25],[-2.06,-0.8],[-2.02,0.9],[-1.98,0.0],[-1.95,1.3],[-1.92,-0.5],[-1.89,0.6],[-1.86,-1.1],[-1.83,0.3],[-1.8,1.15],[-1.77,-0.3],[-1.74,0.75],[-1.71,-0.75],[-1.68,0.1],[-1.65,1.4],[-1.62,-0.15],[-1.59,0.5],[-1.56,-1.25],[-1.53,0.95],[-1.5,1.9],[-1.47,0.2],[-1.44,-0.6],[-1.41,0.65],[-1.38,-0.05],[-1.35,1.25],[-1.32,-0.9],[-1.29,0.45],[-1.26,-0.35],[-1.23,1.0],[-1.2,-1.7],[-1.17,0.3],[-1.14,0.8],[-1.11,-0.5],[-1.08,1.5],[-1.05,0.05],[-1.02,-0.8],[-0.99,0.6],[-0.96,-0.2],[-0.92,1.1],[-0.88,-1.0],[-0.84,0.35],[-0.8,-0.45],[-0.76,0.9],[-0.72,-1.3],[-0.68,0.15],[-0.64,1.3],[-0.6,-0.6],[-0.56,0.55],[-0.52,-0.1],[-0.48,1.0],[-0.44,-1.1],[-0.4,0.3],[-0.36,-0.5],[-0.32,0.75],[-0.28,-1.5],[-0.24,0.4],[-0.2,1.1],[-0.16,-0.3],[-0.12,0.6],[-0.08,-0.85],[-0.05,0.2],[-0.03,-1.25]];
const tri54 = [[-3.79,-1.09],[-3.76,-1.25],[-3.62,-0.2],[-3.5,-0.65],[-3.46,-1.04],[-3.35,-0.45],[-3.31,0.88],[-3.25,-1.1],[-3.12,-1.28],[-3.05,-0.5],[-3.0,0.36],[-2.9,-0.35],[-2.82,-0.7],[-2.72,-0.15],[-2.63,-0.5],[-2.56,0.51],[-2.47,1.33],[-2.4,-0.3],[-2.33,-0.8],[-2.26,0.25],[-2.2,-0.55],[-2.15,0.1],[-2.1,-1.05],[-2.05,0.45],[-2.0,-0.25],[-1.97,1.4],[-1.94,0.2],[-1.91,-0.6],[-1.88,0.85],[-1.85,-0.15],[-1.83,-1.76],[-1.8,0.55],[-1.77,1.3],[-1.74,-0.4],[-1.71,0.3],[-1.68,-0.9],[-1.65,1.0],[-1.62,0.1],[-1.6,-1.7],[-1.57,0.6],[-1.54,-0.3],[-1.51,1.15],[-1.48,-0.7],[-1.45,0.4],[-1.42,-0.05],[-1.39,0.9],[-1.36,-1.1],[-1.33,0.25],[-1.3,-1.65],[-1.27,0.7],[-1.24,-0.45],[-1.21,1.2],[-1.2,-1.95],[-1.17,0.05],[-1.14,0.5],[-1.11,-0.8],[-1.08,0.95],[-1.05,-0.2],[-1.02,0.35],[-0.98,-0.6],[-0.94,1.1],[-0.9,0.15],[-0.86,-1.0],[-0.82,0.65],[-0.78,-0.35],[-0.74,0.9],[-0.7,-0.75],[-0.66,0.3],[-0.62,1.05],[-0.58,-0.5],[-0.54,0.5],[-0.5,-1.2],[-0.46,0.8],[-0.42,0.0],[-0.38,-0.6],[-0.36,-1.69],[-0.32,0.45],[-0.28,-0.25],[-0.24,0.85],[-0.2,-0.9],[-0.16,0.3],[-0.12,-0.45],[-0.08,0.65],[-0.05,-0.2],[-0.03,0.1]];

// residuals in the dense cores of each cloud
const core11 = [[-2.09,0.55],[-2.07,0.05],[-2.04,0.35],[-2.01,0.7],[-1.99,-0.2],[-1.96,0.5],[-1.94,0.15],[-1.91,-0.35],[-1.89,0.6],[-1.86,0.3],[-1.84,-0.1],[-1.81,0.2],[-1.79,0.7],[-1.76,-0.5],[-1.74,0.4],[-1.71,0.0],[-1.69,-0.3],[-1.66,0.55],[-1.64,0.2],[-1.61,-0.65],[-1.59,0.0],[-1.56,0.4],[-1.54,-0.3],[-1.51,-0.6],[-1.49,0.15],[-1.46,-0.15],[-1.44,0.45],[-1.41,-0.5],[-1.39,-0.05],[-1.37,0.3],[-1.34,-0.3],[-1.31,0.15],[-1.29,-0.6],[-1.26,-0.15],[-1.24,-0.45],[-1.21,0.05],[-1.19,-0.8],[-1.16,-0.25],[-1.14,0.3],[-1.11,-0.6],[-1.09,-0.1],[-1.06,-0.9],[-1.01,-0.45],[-0.96,-0.1],[-0.91,-0.6],[-0.86,-0.3],[-0.81,-0.85],[-0.76,-0.5],[-0.59,-0.85],[-0.55,-0.45],[-0.51,-0.8],[-0.49,-0.6],[-0.47,-1.1],[-0.44,-0.35],[-0.41,-0.75],[-0.39,-0.95],[-0.37,-0.55],[-0.33,-0.85],[-0.31,-0.35],[-0.29,-1.1],[-0.27,-0.7],[-0.23,-0.5],[-0.21,-0.8],[-0.18,-1.05],[-0.15,-0.45],[-0.13,-0.65],[-0.09,-0.85],[-0.06,-0.45]];
const core12 = [[-2.09,0.65],[-2.06,0.2],[-2.03,-0.1],[-2.01,0.45],[-1.99,0.8],[-1.97,0.1],[-1.94,-0.45],[-1.92,0.6],[-1.89,0.3],[-1.87,-0.2],[-1.84,0.5],[-1.82,0.15],[-1.79,-0.7],[-1.77,0.35],[-1.74,-0.05],[-1.72,0.7],[-1.69,-0.4],[-1.67,0.1],[-1.64,0.45],[-1.61,-0.6],[-1.59,-0.15],[-1.56,0.25],[-1.54,-0.95],[-1.51,0.05],[-1.49,-0.3],[-1.47,0.4],[-1.44,-0.6],[-1.42,-0.1],[-1.39,0.25],[-1.37,-0.45],[-1.34,-0.8],[-1.32,0.05],[-1.29,-0.3],[-1.27,0.3],[-1.25,-0.7],[-1.22,-0.2],[-1.19,0.2],[-1.16,-0.5],[-1.12,-0.95],[-1.09,-0.15],[-1.04,-0.55],[-0.99,0.1],[-0.94,-0.6],[-0.89,-0.25],[-0.84,-0.85],[-0.79,-0.3],[-0.74,-0.7],[-0.61,-0.45],[-0.57,-0.75],[-0.55,-0.2],[-0.53,-0.95],[-0.51,-0.55],[-0.47,-0.4],[-0.45,-0.7],[-0.43,-0.3],[-0.41,-1.0],[-0.37,-0.6],[-0.35,-0.35],[-0.33,-0.8],[-0.29,-0.5],[-0.27,-1.15],[-0.25,-0.6],[-0.21,-0.85],[-0.19,-0.3],[-0.16,-1.0],[-0.13,-0.6],[-0.09,-0.8],[-0.06,-0.5]];
const core13 = [[-2.05,0.2],[-2.03,0.65],[-2.01,-0.3],[-1.99,0.4],[-1.97,0.05],[-1.95,-0.6],[-1.93,0.6],[-1.91,0.2],[-1.89,-0.25],[-1.87,0.45],[-1.85,-0.7],[-1.83,0.1],[-1.81,0.75],[-1.79,-0.4],[-1.77,0.3],[-1.75,-0.05],[-1.73,-0.8],[-1.71,0.5],[-1.69,0.15],[-1.67,-0.3],[-1.65,0.35],[-1.63,-0.55],[-1.61,0.1],[-1.59,-0.95],[-1.57,0.25],[-1.55,-0.4],[-1.53,0.6],[-1.51,0.0],[-1.49,-0.75],[-1.47,0.3],[-1.45,-0.2],[-1.43,0.05],[-1.41,-0.55],[-1.39,0.4],[-1.37,-0.35],[-1.35,-1.0],[-1.33,0.2],[-1.31,-0.15],[-1.29,-0.6],[-1.27,0.35],[-1.25,-0.4],[-1.23,-0.05],[-1.21,-0.8],[-1.18,0.15],[-1.14,-0.45],[-1.09,-0.2],[-1.03,-0.7],[-0.97,0.0],[-0.91,-0.45],[-0.58,-0.1],[-0.54,-0.55],[-0.51,-0.25],[-0.47,-0.75],[-0.44,-0.4],[-0.41,-0.05],[-0.39,-0.6],[-0.36,-0.3],[-0.33,-0.9],[-0.31,-0.5],[-0.27,-0.25],[-0.24,-0.7],[-0.21,-0.45],[-0.18,-0.9],[-0.15,-0.3],[-0.12,-0.6],[-0.1,-1.2],[-0.07,-0.45],[-0.04,-0.75]];
const core14 = [[-2.02,0.45],[-2.0,0.9],[-1.98,0.2],[-1.96,0.6],[-1.94,-0.1],[-1.92,0.35],[-1.9,0.75],[-1.88,0.5],[-1.86,0.0],[-1.84,0.3],[-1.82,1.0],[-1.8,0.45],[-1.78,-0.35],[-1.76,0.15],[-1.74,0.6],[-1.72,0.3],[-1.7,-0.15],[-1.68,0.5],[-1.66,0.85],[-1.64,0.25],[-1.62,-0.45],[-1.6,0.05],[-1.58,0.6],[-1.56,0.35],[-1.54,-0.1],[-1.52,0.2],[-1.5,0.45],[-1.48,-0.35],[-1.46,0.7],[-1.44,0.1],[-1.42,-0.6],[-1.4,0.4],[-1.38,0.0],[-1.36,0.25],[-1.34,-0.25],[-1.32,0.55],[-1.3,0.15],[-1.27,-0.4],[-1.24,0.3],[-1.21,-0.15],[-1.18,0.1],[-1.15,-0.6],[-1.12,0.45],[-1.09,0.0],[-0.93,0.15],[-0.88,0.3],[-0.83,-0.2],[-0.78,0.4],[-0.73,0.05],[-0.68,-0.3],[-0.63,0.2],[-0.58,0.45],[-0.53,0.0],[-0.48,-0.25],[-0.43,0.3],[-0.38,0.05],[-0.33,0.25],[-0.28,-0.4],[-0.23,0.3],[-0.18,0.45],[-0.13,-0.1],[-0.08,0.2],[-0.05,-0.35]];
const core21 = [[-2.21,0.4],[-2.19,-0.2],[-2.17,0.85],[-2.15,0.1],[-2.13,-0.6],[-2.11,0.55],[-2.09,1.05],[-2.07,-0.1],[-2.05,0.3],[-2.03,-0.85],[-2.01,0.7],[-1.99,0.15],[-1.97,-0.4],[-1.95,0.95],[-1.93,0.35],[-1.91,-0.15],[-1.89,0.55],[-1.87,-0.7],[-1.85,1.2],[-1.83,0.2],[-1.81,-0.3],[-1.79,0.65],[-1.77,0.0],[-1.75,-1.0],[-1.73,0.45],[-1.71,0.9],[-1.69,-0.2],[-1.67,0.25],[-1.65,-0.6],[-1.63,0.6],[-1.61,0.05],[-1.59,1.0],[-1.57,-0.45],[-1.55,0.35],[-1.53,-0.1],[-1.51,0.75],[-1.49,-0.8],[-1.47,0.2],[-1.45,-0.35],[-1.43,0.55],[-1.41,1.15],[-1.39,-0.05],[-1.37,-0.6],[-1.35,0.3],[-1.33,0.85],[-1.31,-0.3],[-1.29,0.1],[-1.27,-0.9],[-1.25,0.5],[-1.23,-0.15],[-1.21,0.7],[-1.19,-0.5],[-1.17,0.25],[-1.15,-0.25],[-1.13,0.8],[-1.11,-0.95],[-1.09,0.05],[-1.07,0.45],[-1.05,-0.5],[-1.03,0.15],[-1.01,-0.2],[-0.99,0.65],[-0.97,-0.75],[-0.95,0.3],[-0.93,-0.35],[-0.91,0.0],[-0.89,0.85],[-0.87,-0.55],[-0.85,0.2],[-0.83,-1.0],[-0.81,0.5],[-0.79,-0.2],[-0.77,0.1],[-0.75,-0.7],[-0.73,0.45],[-0.71,-0.4],[-0.69,0.95],[-0.67,-0.05],[-0.65,-0.9],[-0.63,0.3],[-0.61,-0.55],[-0.59,0.1],[-0.57,0.6],[-0.55,-0.25],[-0.53,-0.85],[-0.51,0.2],[-0.49,0.5],[-0.47,-0.5],[-0.45,-0.15],[-0.43,-1.1],[-0.41,0.3],[-0.39,-0.6],[-0.37,0.75],[-0.35,-0.3],[-0.33,0.05],[-0.31,-0.85],[-0.29,0.4],[-0.27,-0.45],[-0.25,0.15],[-0.23,-1.2],[-0.21,0.55],[-0.19,-0.25],[-0.17,-0.65],[-0.15,0.3],[-0.13,-0.95],[-0.11,0.0],[-0.09,-0.5],[-0.07,0.45],[-0.05,-0.7],[-0.03,0.1]];
const core22 = [[-2.22,0.2],[-2.2,0.75],[-2.18,-0.35],[-2.16,0.45],[-2.14,1.1],[-2.12,0.0],[-2.1,-0.65],[-2.08,0.35],[-2.06,0.9],[-2.04,-0.25],[-2.02,0.55],[-2.0,-0.9],[-1.98,0.15],[-1.96,0.7],[-1.94,-0.45],[-1.92,1.0],[-1.9,0.3],[-1.88,-0.1],[-1.86,0.5],[-1.84,-0.6],[-1.82,0.85],[-1.8,0.05],[-1.78,1.25],[-1.76,-0.3],[-1.74,0.25],[-1.72,-0.95],[-1.7,0.6],[-1.68,0.15],[-1.66,-0.5],[-1.64,0.9],[-1.62,-0.15],[-1.6,0.4],[-1.58,-0.7],[-1.56,1.1],[-1.54,0.1],[-1.52,-0.35],[-1.5,0.65],[-1.48,-0.95],[-1.46,0.3],[-1.44,-0.2],[-1.42,0.8],[-1.4,-0.55],[-1.38,0.05],[-1.36,1.2],[-1.34,-0.4],[-1.32,0.45],[-1.3,-1.1],[-1.28,0.15],[-1.26,0.7],[-1.24,-0.3],[-1.22,0.35],[-1.2,-0.7],[-1.18,0.6],[-1.16,-0.05],[-1.14,1.0],[-1.12,-0.9],[-1.1,0.25],[-1.08,-0.35],[-1.06,0.5],[-1.04,-0.6],[-1.02,0.1],[-1.0,0.8],[-0.98,-0.2],[-0.96,0.35],[-0.94,-0.85],[-0.92,0.6],[-0.9,0.05],[-0.88,-0.45],[-0.86,1.0],[-0.84,0.25],[-0.82,-0.65],[-0.8,0.45],[-0.78,-0.1],[-0.76,0.8],[-0.74,-1.0],[-0.72,0.2],[-0.7,-0.3],[-0.68,0.6],[-0.66,-0.6],[-0.64,0.35],[-0.62,1.2],[-0.6,-0.15],[-0.58,0.15],[-0.56,-0.8],[-0.54,0.55],[-0.52,-0.35],[-0.5,0.95],[-0.48,0.05],[-0.46,-0.6],[-0.44,0.4],[-0.42,-1.05],[-0.4,0.7],[-0.38,-0.2],[-0.36,0.2],[-0.34,-0.95],[-0.32,0.55],[-0.3,-0.45],[-0.28,1.0],[-0.26,0.0],[-0.24,-0.7],[-0.22,0.35],[-0.2,-0.4],[-0.18,0.6],[-0.16,-1.0],[-0.14,0.15],[-0.12,-0.7],[-0.1,0.45],[-0.08,-0.3],[-0.06,0.75],[-0.04,-1.1],[-0.03,0.05]];
const core23 = [[-2.21,0.3],[-2.19,0.85],[-2.17,-0.4],[-2.15,0.1],[-2.13,0.55],[-2.11,-0.75],[-2.09,0.95],[-2.07,0.2],[-2.05,-0.3],[-2.03,0.45],[-2.01,-0.9],[-1.99,0.75],[-1.97,0.05],[-1.95,-0.5],[-1.93,0.35],[-1.91,1.1],[-1.89,-0.2],[-1.87,0.5],[-1.85,-0.7],[-1.83,0.15],[-1.81,0.85],[-1.79,-0.35],[-1.77,0.3],[-1.75,-1.05],[-1.73,0.6],[-1.71,0.0],[-1.69,-0.55],[-1.67,1.0],[-1.65,0.35],[-1.63,-0.25],[-1.61,0.65],[-1.59,-0.8],[-1.57,0.1],[-1.55,0.5],[-1.53,-0.45],[-1.51,0.85],[-1.49,-0.1],[-1.47,-1.1],[-1.45,0.3],[-1.43,-0.35],[-1.41,0.6],[-1.39,-0.7],[-1.37,0.05],[-1.35,0.9],[-1.33,-0.5],[-1.31,0.25],[-1.29,-0.2],[-1.27,-0.95],[-1.25,0.5],[-1.23,0.0],[-1.21,-0.6],[-1.19,0.75],[-1.17,-0.3],[-1.15,0.2],[-1.13,-0.85],[-1.11,0.4],[-1.09,-0.15],[-1.07,-0.7],[-1.05,0.6],[-1.03,0.05],[-1.01,-0.45],[-0.99,0.3],[-0.97,-1.0],[-0.95,0.0],[-0.93,0.55],[-0.91,-0.6],[-0.89,0.2],[-0.87,-0.25],[-0.85,-0.9],[-0.83,0.45],[-0.81,-0.45],[-0.79,0.0],[-0.77,-1.2],[-0.75,0.6],[-0.73,-0.3],[-0.71,0.15],[-0.69,-0.75],[-0.67,0.4],[-0.65,-0.5],[-0.63,-1.05],[-0.61,0.25],[-0.59,-0.2],[-0.57,0.7],[-0.55,-0.85],[-0.53,0.0],[-0.51,-0.4],[-0.49,0.35],[-0.47,-1.15],[-0.45,-0.6],[-0.43,0.1],[-0.41,-0.3],[-0.39,0.55],[-0.37,-0.95],[-0.35,-0.15],[-0.33,0.3],[-0.31,-0.6],[-0.29,-1.25],[-0.27,0.05],[-0.25,-0.4],[-0.23,0.5],[-0.21,-0.8],[-0.19,-0.1],[-0.17,0.25],[-0.15,-0.55],[-0.13,-1.05],[-0.11,0.0],[-0.09,-0.35],[-0.07,0.4],[-0.05,-0.8],[-0.03,-0.2]];
const core24 = [[-2.12,0.45],[-2.1,0.9],[-2.08,-0.1],[-2.06,0.3],[-2.04,1.2],[-2.02,0.6],[-2.0,-0.4],[-1.98,0.15],[-1.96,0.8],[-1.94,0.35],[-1.92,-0.65],[-1.9,1.05],[-1.88,0.5],[-1.86,-0.1],[-1.84,0.25],[-1.82,0.7],[-1.8,-0.85],[-1.78,0.4],[-1.76,1.3],[-1.74,0.05],[-1.72,0.55],[-1.7,-0.35],[-1.68,0.95],[-1.66,0.2],[-1.64,-0.55],[-1.62,0.65],[-1.6,1.1],[-1.58,0.0],[-1.56,0.4],[-1.54,-0.9],[-1.52,0.75],[-1.5,0.15],[-1.48,-0.3],[-1.46,1.0],[-1.44,0.45],[-1.42,-0.6],[-1.4,0.25],[-1.38,0.85],[-1.36,-0.15],[-1.34,0.5],[-1.32,-0.75],[-1.3,1.15],[-1.28,0.2],[-1.26,-0.4],[-1.24,0.6],[-1.22,0.05],[-1.2,-1.0],[-1.18,0.8],[-1.16,0.35],[-1.14,-0.25],[-1.12,0.55],[-1.1,-0.6],[-1.08,0.9],[-1.06,0.1],[-1.04,-0.4],[-1.02,0.45],[-1.0,1.05],[-0.98,-0.15],[-0.96,0.6],[-0.94,-0.8],[-0.92,0.25],[-0.9,0.8],[-0.88,-0.3],[-0.86,0.4],[-0.84,1.2],[-0.82,0.0],[-0.8,-0.55],[-0.78,0.55],[-0.76,0.15],[-0.74,-0.95],[-0.72,0.75],[-0.7,0.3],[-0.68,-0.4],[-0.66,0.9],[-0.64,-0.1],[-0.62,0.5],[-0.6,-0.7],[-0.58,0.2],[-0.56,1.05],[-0.54,-0.25],[-0.52,0.4],[-0.5,-0.85],[-0.48,0.65],[-0.46,0.0],[-0.44,-0.5],[-0.42,0.85],[-0.4,0.3],[-0.38,-0.65],[-0.36,0.55],[-0.34,-0.2],[-0.32,1.0],[-0.3,0.1],[-0.28,-0.9],[-0.26,0.45],[-0.24,-0.35],[-0.22,0.7],[-0.2,0.0],[-0.18,-0.6],[-0.16,0.35],[-0.14,1.1],[-0.12,-0.15],[-0.1,0.5],[-0.08,-0.75],[-0.06,0.2],[-0.04,-0.3],[-0.03,0.8]];
const core31 = [[-2.31,0.25],[-2.29,-0.4],[-2.27,0.8],[-2.25,0.0],[-2.23,-0.95],[-2.21,0.45],[-2.19,1.1],[-2.17,-0.2],[-2.15,0.3],[-2.13,-0.6],[-2.11,0.65],[-2.09,0.05],[-2.07,-1.1],[-2.05,0.9],[-2.03,0.2],[-2.01,-0.35],[-1.99,0.55],[-1.97,-0.75],[-1.95,1.2],[-1.93,-0.05],[-1.91,0.4],[-1.89,-0.5],[-1.87,0.75],[-1.85,0.1],[-1.83,-1.0],[-1.81,0.35],[-1.79,1.0],[-1.77,-0.3],[-1.75,0.2],[-1.73,-0.65],[-1.71,0.6],[-1.69,-0.1],[-1.67,1.25],[-1.65,0.35],[-1.63,-0.45],[-1.61,0.05],[-1.59,-1.05],[-1.57,0.75],[-1.55,0.25],[-1.53,-0.3],[-1.51,0.5],[-1.49,-0.7],[-1.47,1.0],[-1.45,0.1],[-1.43,-0.2],[-1.41,0.65],[-1.39,-0.9],[-1.37,0.3],[-1.35,-0.45],[-1.33,1.15],[-1.31,0.0],[-1.29,0.45],[-1.27,-0.6],[-1.25,0.85],[-1.23,-1.05],[-1.21,0.15],[-1.19,-0.3],[-1.17,0.55],[-1.15,-0.75],[-1.13,0.95],[-1.11,0.25],[-1.09,-0.15],[-1.07,0.6],[-1.05,-0.95],[-1.03,0.0],[-1.01,1.05],[-0.99,-0.4],[-0.97,0.3],[-0.95,-0.65],[-0.93,0.7],[-0.91,-0.05],[-0.89,-1.15],[-0.87,0.4],[-0.85,0.95],[-0.83,-0.3],[-0.81,0.15],[-0.79,-0.7],[-0.77,0.55],[-0.75,-0.2],[-0.73,1.0],[-0.71,0.05],[-0.69,-0.95],[-0.67,0.45],[-0.65,-0.4],[-0.63,0.8],[-0.61,0.2],[-0.59,-0.6],[-0.57,0.0],[-0.55,0.65],[-0.53,-1.0],[-0.51,0.3],[-0.49,-0.25],[-0.47,0.5],[-0.45,-0.7],[-0.43,1.1],[-0.41,0.1],[-0.39,-0.45],[-0.37,0.75],[-0.35,-1.05],[-0.33,0.4],[-0.31,-0.1],[-0.29,0.55],[-0.27,-0.6],[-0.25,0.95],[-0.23,0.0],[-0.21,-0.85],[-0.19,0.3],[-0.17,-0.35],[-0.15,0.7],[-0.13,-1.0],[-0.11,0.2],[-0.09,-0.2],[-0.07,0.5],[-0.05,-0.7],[-0.03,0.6]];
const core32 = [[-2.32,0.6],[-2.3,-0.1],[-2.28,0.3],[-2.26,-0.7],[-2.24,1.1],[-2.22,0.15],[-2.2,-0.4],[-2.18,0.7],[-2.16,-1.0],[-2.14,0.4],[-2.12,0.0],[-2.1,1.0],[-2.08,-0.55],[-2.06,0.25],[-2.04,0.75],[-2.02,-0.25],[-2.0,-1.1],[-1.98,0.5],[-1.96,0.1],[-1.94,1.25],[-1.92,-0.6],[-1.9,0.35],[-1.88,-0.15],[-1.86,0.8],[-1.84,0.05],[-1.82,-0.85],[-1.8,0.6],[-1.78,-0.35],[-1.76,0.2],[-1.74,1.05],[-1.72,-0.5],[-1.7,0.45],[-1.68,-1.0],[-1.66,0.0],[-1.64,0.7],[-1.62,-0.25],[-1.6,0.3],[-1.58,-0.7],[-1.56,1.15],[-1.54,0.15],[-1.52,-0.4],[-1.5,0.65],[-1.48,-0.95],[-1.46,0.35],[-1.44,-0.1],[-1.42,0.9],[-1.4,-0.55],[-1.38,0.2],[-1.36,0.6],[-1.34,-0.3],[-1.32,-1.15],[-1.3,0.45],[-1.28,0.05],[-1.26,1.0],[-1.24,-0.6],[-1.22,0.3],[-1.2,-0.15],[-1.18,0.75],[-1.16,-0.85],[-1.14,0.1],[-1.12,0.5],[-1.1,-0.4],[-1.08,1.2],[-1.06,-0.05],[-1.04,0.35],[-1.02,-0.75],[-1.0,0.65],[-0.98,-0.3],[-0.96,0.15],[-0.94,-1.05],[-0.92,0.85],[-0.9,0.25],[-0.88,-0.45],[-0.86,0.5],[-0.84,-0.15],[-0.82,1.0],[-0.8,-0.8],[-0.78,0.1],[-0.76,0.55],[-0.74,-0.5],[-0.72,0.3],[-0.7,-1.0],[-0.68,0.8],[-0.66,-0.1],[-0.64,0.4],[-0.62,-0.6],[-0.6,0.95],[-0.58,0.05],[-0.56,-0.3],[-0.54,0.6],[-0.52,-0.9],[-0.5,0.2],[-0.48,-0.45],[-0.46,1.05],[-0.44,0.35],[-0.42,-0.2],[-0.4,0.7],[-0.38,-1.1],[-0.36,0.15],[-0.34,-0.55],[-0.32,0.55],[-0.3,0.0],[-0.28,0.9],[-0.26,-0.7],[-0.24,0.3],[-0.22,-0.3],[-0.2,0.65],[-0.18,-1.0],[-0.16,0.2],[-0.14,-0.4],[-0.12,0.5],[-0.1,-0.75],[-0.08,0.05],[-0.06,0.85],[-0.04,-0.5],[-0.03,0.35]];
const core33 = [[-2.38,0.2],[-2.36,-0.5],[-2.34,0.9],[-2.32,0.0],[-2.3,-0.9],[-2.28,0.55],[-2.26,1.2],[-2.24,-0.25],[-2.22,0.35],[-2.2,-0.7],[-2.18,0.75],[-2.16,0.1],[-2.14,-0.45],[-2.12,1.05],[-2.1,0.3],[-2.08,-1.0],[-2.06,0.6],[-2.04,-0.15],[-2.02,0.25],[-2.0,-0.6],[-1.98,0.95],[-1.96,0.4],[-1.94,-0.3],[-1.92,0.05],[-1.9,-1.15],[-1.88,0.7],[-1.86,0.2],[-1.84,-0.5],[-1.82,1.1],[-1.8,0.35],[-1.78,-0.1],[-1.76,0.55],[-1.74,-0.85],[-1.72,0.0],[-1.7,0.9],[-1.68,-0.4],[-1.66,0.3],[-1.64,-0.7],[-1.62,1.2],[-1.6,0.1],[-1.58,-0.25],[-1.56,0.65],[-1.54,-1.1],[-1.52,0.4],[-1.5,-0.5],[-1.48,0.2],[-1.46,0.95],[-1.44,-0.2],[-1.42,-0.8],[-1.4,0.5],[-1.38,0.0],[-1.36,1.05],[-1.34,-0.45],[-1.32,0.3],[-1.3,-0.95],[-1.28,0.65],[-1.26,-0.1],[-1.24,0.15],[-1.22,-0.6],[-1.2,0.85],[-1.18,-1.3],[-1.16,0.35],[-1.14,-0.3],[-1.12,0.5],[-1.1,-0.75],[-1.08,0.0],[-1.06,0.75],[-1.04,-0.45],[-1.02,0.25],[-1.0,-1.0],[-0.98,0.6],[-0.96,-0.15],[-0.94,0.3],[-0.92,-0.6],[-0.9,0.95],[-0.88,0.05],[-0.86,-0.4],[-0.84,0.45],[-0.82,-1.1],[-0.8,0.2],[-0.78,-0.25],[-0.76,0.7],[-0.74,-0.7],[-0.72,0.1],[-0.7,-0.35],[-0.68,0.5],[-0.66,-0.9],[-0.64,0.25],[-0.62,-0.1],[-0.58,-0.5],[-0.54,0.3],[-0.5,-0.8],[-0.46,0.1],[-0.42,-0.4],[-0.38,0.45],[-0.34,-0.15],[-0.3,-0.65],[-0.26,0.25],[-0.22,-0.3],[-0.18,0.5],[-0.14,-0.75],[-0.1,0.05],[-0.06,-0.4]];
const core34 = [[-2.12,0.3],[-2.1,-0.45],[-2.08,0.95],[-2.06,0.1],[-2.04,-0.8],[-2.02,0.6],[-2.0,1.2],[-1.98,-0.2],[-1.96,0.4],[-1.94,-0.6],[-1.92,0.8],[-1.9,0.2],[-1.88,-1.0],[-1.86,0.5],[-1.84,-0.1],[-1.82,1.05],[-1.8,0.35],[-1.78,-0.4],[-1.76,0.65],[-1.74,0.0],[-1.72,-0.85],[-1.7,0.45],[-1.68,1.25],[-1.66,-0.25],[-1.64,0.2],[-1.62,-0.65],[-1.6,0.75],[-1.58,0.05],[-1.56,-1.05],[-1.54,0.55],[-1.52,0.95],[-1.5,-0.15],[-1.48,0.3],[-1.46,-0.5],[-1.44,0.7],[-1.42,-0.9],[-1.4,0.15],[-1.38,1.1],[-1.36,-0.3],[-1.34,0.4],[-1.32,-0.7],[-1.3,0.6],[-1.28,0.0],[-1.26,-1.1],[-1.24,0.85],[-1.22,0.25],[-1.2,-0.45],[-1.18,0.5],[-1.16,-0.1],[-1.14,1.0],[-1.12,-0.75],[-1.1,0.35],[-1.08,-0.3],[-1.06,0.7],[-1.04,0.1],[-1.02,-0.95],[-1.0,0.45],[-0.98,1.15],[-0.96,-0.2],[-0.94,0.25],[-0.92,-0.6],[-0.9,0.6],[-0.88,-0.05],[-0.86,0.9],[-0.84,-1.0],[-0.82,0.3],[-0.8,-0.35],[-0.78,0.55],[-0.76,0.0],[-0.74,-0.8],[-0.72,0.75],[-0.7,0.15],[-0.68,-0.45],[-0.66,1.05],[-0.64,0.4],[-0.62,-0.15],[-0.6,-0.9],[-0.58,0.6],[-0.56,0.1],[-0.54,-0.5],[-0.52,0.85],[-0.5,-0.25],[-0.48,0.3],[-0.46,-1.05],[-0.44,0.5],[-0.42,-0.1],[-0.4,0.95],[-0.38,0.2],[-0.36,-0.6],[-0.34,0.4],[-0.32,-0.3],[-0.3,0.75],[-0.28,-0.95],[-0.26,0.1],[-0.24,0.55],[-0.22,-0.45],[-0.2,1.0],[-0.18,0.0],[-0.16,-0.7],[-0.14,0.35],[-0.12,-0.2],[-0.1,0.65],[-0.08,-1.0],[-0.06,0.2],[-0.04,0.9],[-0.03,-0.4]];
const core41 = [[-2.21,0.5],[-2.19,-0.3],[-2.17,1.0],[-2.15,0.2],[-2.13,-0.8],[-2.11,0.7],[-2.09,0.0],[-2.07,1.3],[-2.05,-0.45],[-2.03,0.4],[-2.01,-1.0],[-1.99,0.85],[-1.97,0.15],[-1.95,-0.35],[-1.93,1.1],[-1.91,0.55],[-1.89,-0.65],[-1.87,0.05],[-1.85,0.75],[-1.83,-0.2],[-1.81,1.25],[-1.79,0.3],[-1.77,-0.9],[-1.75,0.6],[-1.73,0.1],[-1.71,-0.5],[-1.69,0.95],[-1.67,-0.1],[-1.65,0.45],[-1.63,-1.1],[-1.61,0.7],[-1.59,0.2],[-1.57,-0.4],[-1.55,1.15],[-1.53,0.35],[-1.51,-0.75],[-1.49,0.0],[-1.47,0.8],[-1.45,-0.3],[-1.43,0.5],[-1.41,-0.95],[-1.39,1.0],[-1.37,0.15],[-1.35,-0.5],[-1.33,0.6],[-1.31,-0.15],[-1.29,0.35],[-1.27,-0.8],[-1.25,0.9],[-1.23,0.05],[-1.21,-0.35],[-1.19,0.45],[-1.17,-1.05],[-1.15,0.7],[-1.13,-0.2],[-1.11,0.25],[-1.08,-0.6],[-1.05,0.4],[-1.02,-0.1],[-0.99,0.75],[-0.96,-0.45],[-0.93,0.1],[-0.9,-0.85],[-0.87,0.5],[-0.84,-0.25],[-0.81,0.25],[-0.78,-0.7],[-0.75,0.6],[-0.72,0.0],[-0.69,-0.4],[-0.66,0.35],[-0.63,-0.9],[-0.6,0.15],[-0.57,0.7],[-0.54,-0.2],[-0.51,0.4],[-0.48,-0.6],[-0.45,0.1],[-0.42,0.9],[-0.39,-0.45],[-0.36,0.2],[-0.33,-1.0],[-0.3,0.45],[-0.27,-0.15],[-0.24,0.3],[-0.21,-0.6],[-0.18,0.6],[-0.15,-0.3],[-0.12,0.1],[-0.09,-0.7],[-0.06,0.4],[-0.03,-0.4],[-3.9,0.6],[-3.75,0.9],[-3.6,0.35],[-3.45,0.7],[-3.3,0.5],[-3.15,0.95],[-3.0,0.45],[-2.85,0.75],[-2.7,0.55],[-2.55,0.85],[-2.4,0.65],[-3.82,-0.6],[-3.55,-0.7],[-3.25,-0.55],[-2.95,-0.8],[-2.65,-0.6],[-2.45,-0.75]];
const core42 = [[-2.22,0.3],[-2.2,1.05],[-2.18,-0.4],[-2.16,0.6],[-2.14,0.0],[-2.12,-0.9],[-2.1,0.45],[-2.08,1.2],[-2.06,-0.2],[-2.04,0.75],[-2.02,0.15],[-2.0,-0.6],[-1.98,0.95],[-1.96,0.35],[-1.94,-1.0],[-1.92,0.55],[-1.9,-0.1],[-1.88,1.3],[-1.86,0.2],[-1.84,-0.5],[-1.82,0.7],[-1.8,0.05],[-1.78,-0.8],[-1.76,1.0],[-1.74,0.4],[-1.72,-0.3],[-1.7,0.6],[-1.68,-1.1],[-1.66,0.25],[-1.64,0.9],[-1.62,-0.15],[-1.6,0.45],[-1.58,-0.65],[-1.56,1.15],[-1.54,0.1],[-1.52,-0.4],[-1.5,0.65],[-1.48,-0.9],[-1.46,0.35],[-1.44,1.0],[-1.42,-0.2],[-1.4,0.15],[-1.38,-0.7],[-1.36,0.8],[-1.34,0.3],[-1.32,-0.45],[-1.3,1.1],[-1.28,-0.05],[-1.26,0.5],[-1.24,-0.95],[-1.22,0.2],[-1.2,0.7],[-1.18,-0.35],[-1.16,0.4],[-1.14,-0.75],[-1.12,0.05],[-1.09,0.85],[-1.06,-0.4],[-1.03,0.3],[-1.0,-0.85],[-0.97,0.55],[-0.94,0.0],[-0.91,-0.5],[-0.88,0.7],[-0.85,0.15],[-0.82,-0.9],[-0.79,0.4],[-0.76,-0.2],[-0.73,0.95],[-0.7,-0.6],[-0.67,0.25],[-0.64,-0.3],[-0.61,0.6],[-0.58,-1.0],[-0.55,0.1],[-0.52,0.5],[-0.49,-0.4],[-0.46,0.85],[-0.43,-0.15],[-0.4,0.35],[-0.37,-0.7],[-0.34,0.15],[-0.31,0.65],[-0.28,-0.35],[-0.25,0.3],[-0.22,-0.8],[-0.19,0.55],[-0.16,-0.1],[-0.13,0.25],[-0.1,-0.6],[-0.07,0.5],[-0.04,-0.3],[-3.88,0.7],[-3.72,0.45],[-3.58,0.85],[-3.42,0.5],[-3.28,0.75],[-3.12,0.6],[-2.98,0.9],[-2.82,0.4],[-2.68,0.7],[-2.52,0.55],[-2.38,0.8],[-3.8,-0.5],[-3.5,-0.75],[-3.2,-0.6],[-2.9,-0.55],[-2.6,-0.8],[-2.35,-0.6]];
const core43 = [[-2.11,0.35],[-2.09,1.1],[-2.07,-0.3],[-2.05,0.6],[-2.03,0.0],[-2.01,-0.85],[-1.99,0.85],[-1.97,0.2],[-1.95,1.4],[-1.93,-0.5],[-1.91,0.45],[-1.89,-0.1],[-1.87,1.0],[-1.85,0.3],[-1.83,-0.75],[-1.81,0.65],[-1.79,0.1],[-1.77,1.25],[-1.75,-0.35],[-1.73,0.5],[-1.71,-1.0],[-1.69,0.8],[-1.67,0.25],[-1.65,-0.2],[-1.63,1.1],[-1.61,0.4],[-1.59,-0.6],[-1.57,0.05],[-1.55,0.95],[-1.53,-0.3],[-1.51,0.55],[-1.49,-0.9],[-1.47,0.2],[-1.45,1.3],[-1.43,-0.1],[-1.41,0.7],[-1.39,-0.55],[-1.37,0.35],[-1.35,-1.2],[-1.33,0.9],[-1.31,0.1],[-1.29,-0.4],[-1.27,0.6],[-1.25,-0.05],[-1.23,1.05],[-1.21,-0.75],[-1.19,0.3],[-1.17,-0.25],[-1.15,0.75],[-1.13,-1.0],[-1.11,0.15],[-1.09,0.5],[-1.07,-0.45],[-1.05,0.25],[-1.03,-0.8],[-1.0,0.6],[-0.97,-0.1],[-0.94,0.35],[-0.91,-0.6],[-0.88,0.1],[-0.85,-1.0],[-0.82,0.45],[-0.79,-0.3],[-0.76,0.2],[-0.73,-0.75],[-0.7,0.5],[-0.67,-0.45],[-0.64,0.05],[-0.61,-0.9],[-0.58,0.3],[-0.55,-0.2],[-0.52,0.6],[-0.49,-0.65],[-0.46,0.0],[-0.43,-0.4],[-0.4,0.35],[-0.37,-1.1],[-0.34,-0.1],[-0.31,0.25],[-0.28,-0.55],[-0.25,0.4],[-0.22,-0.85],[-0.19,0.1],[-0.16,-0.35],[-0.13,0.45],[-0.1,-0.7],[-0.07,0.0],[-0.04,-0.5],[-3.85,0.8],[-3.7,0.6],[-3.55,0.95],[-3.4,0.7],[-3.25,0.5],[-3.1,0.85],[-2.95,0.65],[-2.8,1.0],[-2.65,0.55],[-2.5,0.75],[-2.35,0.9],[-3.9,-0.3],[-3.65,-0.55],[-3.35,-0.4],[-3.05,-0.65],[-2.75,-0.45],[-2.45,-0.6]];
const core44 = [[-2.11,0.6],[-2.09,-0.2],[-2.07,1.0],[-2.05,0.3],[-2.03,-0.7],[-2.01,0.85],[-1.99,1.4],[-1.97,0.1],[-1.95,0.55],[-1.93,-0.45],[-1.91,1.15],[-1.89,0.4],[-1.87,-0.1],[-1.85,0.75],[-1.83,1.6],[-1.81,-0.6],[-1.79,0.25],[-1.77,0.95],[-1.75,0.0],[-1.73,0.5],[-1.71,-0.95],[-1.69,1.25],[-1.67,0.35],[-1.65,-0.3],[-1.63,0.7],[-1.61,0.15],[-1.59,1.05],[-1.57,-0.7],[-1.55,0.45],[-1.53,-0.05],[-1.51,0.9],[-1.49,0.3],[-1.47,-0.45],[-1.45,0.6],[-1.43,1.3],[-1.41,-0.2],[-1.39,0.2],[-1.37,-0.85],[-1.35,0.75],[-1.33,0.4],[-1.31,-0.15],[-1.29,1.0],[-1.27,0.05],[-1.25,-0.6],[-1.23,0.55],[-1.21,0.2],[-1.19,-0.35],[-1.17,0.85],[-1.15,-1.0],[-1.13,0.35],[-1.11,0.0],[-1.09,0.65],[-1.07,-0.5],[-1.05,0.25],[-1.02,0.9],[-0.99,-0.2],[-0.96,0.45],[-0.93,-0.75],[-0.9,0.1],[-0.87,0.6],[-0.84,-0.3],[-0.81,0.3],[-0.78,-0.6],[-0.75,0.0],[-0.72,0.5],[-0.69,-0.45],[-0.66,0.2],[-0.63,-0.85],[-0.6,0.35],[-0.57,-0.15],[-0.54,0.05],[-0.51,-0.55],[-0.48,0.3],[-0.45,-0.3],[-0.42,0.1],[-0.39,-0.7],[-0.36,0.45],[-0.33,0.0],[-0.3,-0.4],[-0.27,0.25],[-0.24,-0.6],[-0.21,0.15],[-0.18,-0.2],[-0.15,0.4],[-0.12,-0.5],[-0.09,0.05],[-0.06,-0.25],[-0.03,0.3],[-3.9,0.9],[-3.75,0.7],[-3.6,1.0],[-3.45,0.55],[-3.3,0.85],[-3.15,0.65],[-3.0,1.05],[-2.85,0.6],[-2.7,0.8],[-2.55,0.95],[-2.4,0.7],[-3.82,-0.4],[-3.55,-0.55],[-3.25,-0.35],[-2.95,-0.6],[-2.65,-0.5],[-2.45,-0.4]];
const core51 = [[-2.0,0.2],[-1.97,-0.55],[-1.94,0.45],[-1.91,-0.2],[-1.88,0.75],[-1.85,-0.75],[-1.82,0.3],[-1.79,0.0],[-1.76,-0.45],[-1.73,0.6],[-1.7,-0.9],[-1.67,0.15],[-1.64,0.4],[-1.61,-0.5],[-1.58,-0.1],[-1.55,0.7],[-1.52,-0.65],[-1.49,0.35],[-1.46,-0.25],[-1.43,0.05],[-1.4,-0.75],[-1.37,0.5],[-1.34,-0.4],[-1.31,0.2],[-1.28,-0.6],[-1.25,0.65],[-1.22,-0.15],[-1.19,0.35],[-1.16,-0.85],[-1.13,0.1],[-1.1,-0.3],[-1.07,0.55],[-1.04,-0.55],[-1.01,0.25],[-0.98,-0.1],[-0.95,0.7],[-0.92,-0.7],[-0.89,0.3],[-0.86,-0.2],[-0.83,0.55],[-0.79,-0.45],[-0.75,0.35],[-0.71,-0.15],[-0.67,0.6],[-0.63,-0.6],[-0.59,0.2],[-0.55,0.8],[-0.51,-0.3],[-0.47,0.45],[-0.43,-0.5],[-0.39,0.3],[-0.35,0.7],[-0.31,-0.2],[-0.27,0.4],[-0.23,-0.5],[-0.19,0.6],[-0.15,-0.1],[-0.11,0.3]];
const core52 = [[-2.02,-0.4],[-1.99,0.3],[-1.96,-0.75],[-1.93,0.55],[-1.9,-0.25],[-1.87,0.1],[-1.84,-0.6],[-1.81,0.65],[-1.78,-0.1],[-1.75,0.35],[-1.72,-0.85],[-1.69,0.2],[-1.66,-0.35],[-1.63,0.5],[-1.6,-0.7],[-1.57,0.0],[-1.54,0.75],[-1.51,-0.5],[-1.48,0.3],[-1.45,-0.15],[-1.42,0.45],[-1.39,-0.9],[-1.36,0.1],[-1.33,-0.4],[-1.3,0.6],[-1.27,-0.65],[-1.24,0.25],[-1.21,-0.2],[-1.18,0.7],[-1.15,-0.5],[-1.12,0.15],[-1.09,-0.8],[-1.06,0.4],[-1.03,-0.3],[-1.0,0.05],[-0.97,-0.6],[-0.94,0.5],[-0.91,-0.15],[-0.88,0.3],[-0.85,-0.7],[-0.81,0.6],[-0.77,-0.25],[-0.73,0.2],[-0.69,-0.55],[-0.65,0.45],[-0.61,-0.1],[-0.57,0.7],[-0.53,-0.4],[-0.49,0.25],[-0.45,-0.7],[-0.41,0.55],[-0.37,0.0],[-0.33,-0.5],[-0.29,0.35],[-0.25,-0.2],[-0.21,0.6],[-0.17,-0.45],[-0.13,0.15]];
const core53 = [[-2.0,0.5],[-1.97,-0.2],[-1.94,0.8],[-1.91,0.1],[-1.88,-0.5],[-1.85,0.6],[-1.82,0.25],[-1.79,-0.35],[-1.76,0.95],[-1.73,0.4],[-1.7,-0.15],[-1.67,0.65],[-1.64,-0.6],[-1.61,0.3],[-1.58,0.9],[-1.55,0.0],[-1.52,0.5],[-1.49,-0.4],[-1.46,0.75],[-1.43,0.2],[-1.4,-0.25],[-1.37,0.55],[-1.34,1.0],[-1.31,-0.1],[-1.28,0.35],[-1.25,-0.55],[-1.22,0.7],[-1.19,0.15],[-1.16,-0.3],[-1.13,0.5],[-1.1,0.9],[-1.07,-0.2],[-1.04,0.3],[-1.01,-0.6],[-0.98,0.65],[-0.95,0.05],[-0.92,0.4],[-0.89,-0.35],[-0.86,0.8],[-0.82,0.2],[-0.78,-0.25],[-0.74,0.55],[-0.7,-0.5],[-0.66,0.35],[-0.62,0.75],[-0.58,-0.1],[-0.54,0.4],[-0.5,-0.45],[-0.46,0.6],[-0.42,0.1],[-0.38,-0.3],[-0.34,0.5],[-0.3,-0.6],[-0.26,0.25],[-0.22,0.7],[-0.18,-0.2],[-0.14,0.35],[-0.1,-0.45]];
const core54 = [[-2.02,0.15],[-1.98,-0.4],[-1.95,0.6],[-1.92,0.0],[-1.89,-0.7],[-1.86,0.4],[-1.83,0.9],[-1.8,-0.2],[-1.77,0.25],[-1.74,-0.55],[-1.71,0.7],[-1.68,0.1],[-1.65,-0.3],[-1.62,0.5],[-1.59,1.1],[-1.56,-0.1],[-1.53,0.35],[-1.5,-0.6],[-1.47,0.8],[-1.44,0.2],[-1.41,-0.4],[-1.38,0.55],[-1.35,-0.05],[-1.32,0.95],[-1.29,-0.75],[-1.26,0.3],[-1.23,0.65],[-1.2,-0.25],[-1.17,0.15],[-1.14,-0.5],[-1.11,0.75],[-1.08,0.05],[-1.05,-0.35],[-1.02,0.5],[-0.98,-0.1],[-0.94,0.4],[-0.9,-0.55],[-0.86,0.3],[-0.82,0.85],[-0.78,-0.2],[-0.74,0.45],[-0.7,-0.4],[-0.66,0.1],[-0.62,0.6],[-0.58,-0.25],[-0.54,0.3],[-0.5,-0.6],[-0.46,0.55],[-0.42,-0.1],[-0.38,0.2],[-0.34,-0.45],[-0.3,0.45],[-0.26,-0.2],[-0.22,0.15],[-0.18,-0.5],[-0.14,0.35],[-0.1,-0.15],[-0.07,0.5]];

// binned means: [log10 PGA, mean, lower, upper]
const mean11 = [[-2.68,0.69,0.62,0.76],[-1.89,0.47,0.42,0.52],[-1.32,0.0,-0.04,0.04],[-0.44,-0.56,-0.61,-0.51]];
const mean12 = [[-2.68,0.62,0.55,0.69],[-1.87,0.40,0.35,0.45],[-1.32,-0.05,-0.09,-0.01],[-0.42,-0.62,-0.67,-0.57]];
const mean13 = [[-2.68,0.62,0.30,0.96],[-1.87,0.38,0.34,0.42],[-1.32,-0.05,-0.09,-0.01],[-0.46,-0.36,-0.41,-0.31]];
const mean14 = [[-1.88,0.71,0.66,0.76],[-1.29,0.24,0.20,0.28],[-0.45,0.27,0.23,0.31]];
const mean21 = [[-3.82,1.18,1.18,1.18],[-2.83,0.58,0.42,0.73],[-1.90,0.32,0.28,0.36],[-1.30,0.08,0.04,0.12],[-0.46,-0.29,-0.33,-0.25]];
const mean22 = [[-3.80,1.09,1.09,1.09],[-2.83,0.69,0.52,0.86],[-1.87,0.32,0.28,0.36],[-1.29,0.12,0.08,0.16],[-0.45,-0.17,-0.21,-0.13]];
const mean23 = [[-3.83,-0.33,-0.33,-0.33],[-2.84,0.67,0.52,0.82],[-1.89,0.26,0.22,0.30],[-1.30,0.0,-0.04,0.04],[-0.44,-0.26,-0.30,-0.22]];
const mean24 = [[-2.77,1.0,0.78,1.22],[-1.90,0.46,0.42,0.50],[-1.28,0.30,0.26,0.34],[-0.45,0.24,0.20,0.28]];
const mean31 = [[-3.78,0.16,0.09,0.23],[-2.94,0.0,0.0,0.0],[-1.94,0.21,0.17,0.25],[-1.31,0.12,0.08,0.16],[-0.46,-0.08,-0.12,-0.04]];
const mean32 = [[-3.78,0.27,0.19,0.35],[-2.94,0.04,0.04,0.04],[-1.94,0.21,0.17,0.25],[-1.33,0.18,0.14,0.22],[-0.46,0.01,-0.03,0.05]];
const mean33 = [[-3.80,0.03,-0.02,0.08],[-2.94,0.09,0.09,0.09],[-1.95,0.27,0.23,0.31],[-1.30,0.09,0.05,0.13],[-0.45,-0.09,-0.13,-0.05]];
const mean34 = [[-3.80,0.28,0.20,0.36],[-2.94,0.04,0.04,0.04],[-1.95,0.34,0.30,0.38],[-1.29,0.19,0.15,0.23],[-0.47,0.28,0.28,0.28]];
const mean41 = [[-3.75,0.38,0.31,0.45],[-2.91,0.23,0.17,0.29],[-1.96,0.04,-0.01,0.09],[-1.34,0.06,0.02,0.10],[-0.49,-0.03,-0.10,0.04]];
const mean42 = [[-3.75,0.46,0.39,0.53],[-2.91,0.28,0.22,0.34],[-1.94,0.06,0.02,0.10],[-1.33,0.10,0.06,0.14],[-0.47,-0.03,-0.10,0.04]];
const mean43 = [[-3.76,0.56,0.50,0.62],[-2.90,0.48,0.42,0.54],[-1.95,0.17,0.13,0.21],[-1.33,0.12,0.08,0.16],[-0.49,-0.10,-0.15,-0.05]];
const mean44 = [[-3.75,0.56,0.50,0.62],[-2.91,0.38,0.33,0.43],[-1.98,0.20,0.16,0.24],[-1.32,0.15,0.11,0.19],[-0.49,0.09,0.0,0.18]];
const mean51 = [[-3.61,-0.45,-0.66,-0.27],[-2.91,-0.03,-0.14,0.08],[-1.96,-0.17,-0.22,-0.12],[-1.30,-0.03,-0.07,0.01],[-0.43,0.05,0.05,0.05]];
const mean52 = [[-3.59,-0.55,-0.74,-0.40],[-2.91,-0.05,-0.17,0.07],[-1.96,-0.27,-0.32,-0.22],[-1.29,-0.03,-0.07,0.01],[-0.43,-0.03,-0.03,-0.03]];
const mean53 = [[-3.61,0.10,-0.12,0.35],[-2.92,0.14,0.09,0.19],[-1.96,0.25,0.20,0.30],[-1.29,0.17,0.13,0.21],[-0.42,0.16,0.16,0.16]];
const mean54 = [[-3.60,-0.41,-0.67,-0.15],[-2.90,-0.52,-0.58,-0.46],[-1.99,0.03,-0.02,0.08],[-1.28,0.10,0.06,0.14],[-0.45,0.18,0.18,0.18]];

// proposed FNL (solid)
const fnl11 = [[-4,0.63],[-3.5,0.63],[-3,0.62],[-2.5,0.56],[-2,0.4],[-1.5,0.14],[-1,-0.18],[-0.5,-0.54],[-0.15,-0.87]];
const fnl12 = [[-4,0.58],[-3.5,0.58],[-3,0.57],[-2.5,0.53],[-2,0.42],[-1.5,0.2],[-1,-0.12],[-0.5,-0.5],[-0.07,-0.9]];
const fnl13 = [[-4,0.4],[-3.5,0.4],[-3,0.39],[-2.5,0.37],[-2,0.3],[-1.5,0.13],[-1,-0.1],[-0.5,-0.36],[-0.13,-0.58]];
const fnl14 = [[-4,0.61],[-3.5,0.61],[-3,0.6],[-2.5,0.58],[-2,0.54],[-1.5,0.45],[-1,0.32],[-0.5,0.17],[-0.13,0.03]];
const fnl21 = [[-4,0.45],[-3.5,0.45],[-3,0.44],[-2.5,0.42],[-2,0.36],[-1.5,0.21],[-1,0.0],[-0.5,-0.25],[-0.15,-0.45]];
const fnl22 = [[-4,0.45],[-3.5,0.45],[-3,0.44],[-2.5,0.42],[-2,0.36],[-1.5,0.23],[-1,0.05],[-0.5,-0.15],[-0.12,-0.33]];
const fnl23 = [[-4,0.34],[-3.5,0.34],[-3,0.33],[-2.5,0.32],[-2,0.27],[-1.5,0.15],[-1,-0.03],[-0.5,-0.23],[-0.14,-0.4]];
const fnl24 = [[-4,0.46],[-3.5,0.46],[-3,0.45],[-2.5,0.45],[-2,0.43],[-1.5,0.37],[-1,0.29],[-0.5,0.21],[-0.15,0.14]];
const fnl31 = [[-4,0.26],[-3.5,0.26],[-3,0.25],[-2.5,0.24],[-2,0.21],[-1.5,0.15],[-1,0.06],[-0.5,-0.04],[-0.15,-0.11]];
const fnl32 = [[-4,0.25],[-3,0.25],[-2.5,0.24],[-2,0.23],[-1.5,0.2],[-1,0.15],[-0.5,0.07],[-0.12,0.02]];
const fnl33 = [[-4,0.29],[-3.5,0.29],[-3,0.29],[-2.5,0.28],[-2,0.26],[-1.5,0.18],[-1,0.06],[-0.5,-0.07],[-0.16,-0.18]];
const fnl34 = [[-4,0.26],[-2,0.25],[-1,0.24],[-0.15,0.22]];
const fnl41 = [[-4,0.17],[-3.5,0.17],[-3,0.16],[-2.5,0.15],[-2,0.13],[-1.5,0.08],[-1,0.02],[-0.5,-0.04],[-0.15,-0.09]];
const fnl42 = [[-4,0.23],[-3.5,0.23],[-3,0.22],[-2.5,0.21],[-2,0.18],[-1.5,0.13],[-1,0.05],[-0.5,-0.03],[-0.12,-0.09]];
const fnl43 = [[-4,0.37],[-3.5,0.37],[-3,0.37],[-2.5,0.36],[-2,0.32],[-1.5,0.22],[-1,0.07],[-0.5,-0.1],[-0.16,-0.25]];
const fnl44 = [[-4,0.32],[-3.5,0.32],[-3,0.31],[-2.5,0.3],[-2,0.27],[-1.5,0.21],[-1,0.13],[-0.5,0.05],[-0.15,-0.03]];
const fnl51 = [[-4,-0.07],[-0.1,-0.07]];
const fnl52 = [[-4,-0.12],[-0.1,-0.12]];
const fnl53 = [[-4,0.19],[-0.12,0.19]];
const fnl54 = [[-4,0.03],[-0.12,0.03]];

// calibrated SS14 FNL (dashed)
const ss11 = [[-4,0.63],[-3.5,0.63],[-3,0.62],[-2.5,0.56],[-2,0.4],[-1.7,0.22],[-1.45,0.02],[-1.2,-0.3],[-0.95,-0.78],[-0.67,-1.64]];
const ss12 = [[-4,0.58],[-3.5,0.58],[-3,0.57],[-2.5,0.53],[-2,0.42],[-1.7,0.25],[-1.45,0.02],[-1.2,-0.35],[-0.98,-0.8],[-0.73,-1.62]];
const ss13 = [[-4,0.4],[-3.5,0.4],[-3,0.39],[-2.5,0.37],[-2.1,0.31],[-1.8,0.13],[-1.5,-0.25],[-1.2,-0.82],[-0.98,-1.28],[-0.77,-1.76]];
const ss14 = [[-4,0.61],[-0.13,0.61]];
const ss21 = [[-4,0.45],[-3,0.45],[-2.5,0.44],[-2,0.41],[-1.5,0.34],[-1,0.2],[-0.5,-0.02],[-0.15,-0.2]];
const ss22 = [[-4,0.45],[-3,0.45],[-2.5,0.44],[-2,0.39],[-1.5,0.25],[-1,0.06],[-0.5,-0.2],[-0.12,-0.55]];
const ss23 = [[-4,0.34],[-3,0.34],[-2.5,0.33],[-2,0.31],[-1.5,0.26],[-1,0.14],[-0.5,-0.03],[-0.14,-0.2]];
const ss24 = [[-4,0.46],[-0.15,0.46]];
const ss31 = [[-4,0.26],[-3,0.26],[-2,0.24],[-1.5,0.21],[-1,0.15],[-0.5,0.08],[-0.15,0.04]];
const ss32 = [[-4,0.25],[-3,0.25],[-2,0.23],[-1.5,0.19],[-1,0.12],[-0.5,0.0],[-0.12,-0.1]];
const ss33 = [[-4,0.29],[-3,0.29],[-2,0.28],[-1.5,0.26],[-1,0.23],[-0.5,0.18],[-0.16,0.14]];
const ss34 = [[-4,0.26],[-0.15,0.27]];
const ss41 = [[-4,0.17],[-1,0.16],[-0.15,0.14]];
const ss42 = [[-4,0.23],[-1,0.2],[-0.12,0.17]];
const ss43 = [[-4,0.37],[-0.16,0.36]];
const ss44 = [[-4,0.32],[-0.15,0.32]];
const ss51 = [[-4,0.0],[-0.1,0.0]];
const ss52 = [[-4,0.0],[-0.1,0.0]];
const ss53 = [[-4,0.0],[-0.12,0.0]];
const ss54 = [[-4,0.02],[-0.12,0.02]];

// ---------- ASSEMBLY ----------
const outer = [[tri11,tri12,tri13,tri14],[tri21,tri22,tri23,tri24],[tri31,tri32,tri33,tri34],[tri41,tri42,tri43,tri44],[tri51,tri52,tri53,tri54]];
const cores = [[core11,core12,core13,core14],[core21,core22,core23,core24],[core31,core32,core33,core34],[core41,core42,core43,core44],[core51,core52,core53,core54]];
const means = [[mean11,mean12,mean13,mean14],[mean21,mean22,mean23,mean24],[mean31,mean32,mean33,mean34],[mean41,mean42,mean43,mean44],[mean51,mean52,mean53,mean54]];
const fnl = [[fnl11,fnl12,fnl13,fnl14],[fnl21,fnl22,fnl23,fnl24],[fnl31,fnl32,fnl33,fnl34],[fnl41,fnl42,fnl43,fnl44],[fnl51,fnl52,fnl53,fnl54]];
const ss14fnl = [[ss11,ss12,ss13,ss14],[ss21,ss22,ss23,ss24],[ss31,ss32,ss33,ss34],[ss41,ss42,ss43,ss44],[ss51,ss52,ss53,ss54]];
const f2Labels = [f2Row1, f2Row2, f2Row3, f2Row4];

const xMinorTicks = [];
for (let d = -4; d < 0; d++) for (let m = 2; m <= 9; m++) xMinorTicks.push([m * Math.pow(10, d), 0]);

const FONT = 'Lato, "Open Sans", "DejaVu Sans", sans-serif';
const W = 1251;
const colLeft = [99, 392, 685, 977];
const rowTop = [98, 301, 504, 707, 914];
const GW = 269, GH = 180;
const toXY = p => [Math.pow(10, p[0]), p[1]];

const grid = [], xAxis = [], yAxis = [], series = [], title = [], gfx = [];

function xAx(g, pos, inside, showLine, labels) {
  return {
    type: 'log', logBase: 10, min: 0.0001, max: 1, gridIndex: g, position: pos,
    splitLine: { show: false },
    axisLine: { show: showLine, onZero: false, lineStyle: { color: '#000', width: 2 } },
    axisTick: { show: true, inside: inside, length: 4, lineStyle: { color: '#000', width: 1.5 } },
    axisLabel: labels ? {
      show: true, margin: 15, fontFamily: FONT, fontSize: 11, fontWeight: 'bold', color: '#000',
      formatter: v => { const l = Math.round(Math.log10(v)); return l === -4 ? xTickLabels[0] : l === -2 ? xTickLabels[1] : l === 0 ? xTickLabels[2] : ''; }
    } : { show: false }
  };
}
function yAx(g, pos, inside, showLine, labels) {
  return {
    type: 'value', min: -2, max: 2, interval: 0.4, gridIndex: g, position: pos,
    splitLine: { show: false },
    axisLine: { show: showLine, onZero: false, lineStyle: { color: '#000', width: 2 } },
    axisTick: { show: true, inside: inside, length: 4, lineStyle: { color: '#000', width: 1.5 } },
    minorTick: { show: true, splitNumber: 2, length: 2.5, lineStyle: { color: '#000', width: 1 } },
    axisLabel: labels ? { show: true, margin: 7, fontFamily: FONT, fontSize: 10, fontWeight: 'bold', color: '#000' } : { show: false }
  };
}

function errorBar(params, api) {
  const x = api.value(0), lo = api.value(1), hi = api.value(2);
  const a = api.coord([x, lo]), b = api.coord([x, hi]);
  const w = 8, st = { stroke: '#ff0000', lineWidth: 1.5 };
  return { type: 'group', children: [
    { type: 'line', shape: { x1: a[0], y1: a[1], x2: b[0], y2: b[1] }, style: st },
    { type: 'line', shape: { x1: a[0] - w, y1: a[1], x2: a[0] + w, y2: a[1] }, style: st },
    { type: 'line', shape: { x1: b[0] - w, y1: b[1], x2: b[0] + w, y2: b[1] }, style: st }
  ] };
}
function minorTick(params, api) {
  const v = api.value(0);
  const b = api.coord([v, -2]), t = api.coord([v, 2]);
  const st = { stroke: '#000', lineWidth: 1 };
  return { type: 'group', children: [
    { type: 'line', shape: { x1: b[0], y1: b[1] - 2.5, x2: b[0], y2: b[1] + 2.5 }, style: st },
    { type: 'line', shape: { x1: t[0], y1: t[1] - 2.5, x2: t[0], y2: t[1] + 2.5 }, style: st }
  ] };
}

for (let r = 0; r < 5; r++) {
  for (let c = 0; c < 4; c++) {
    const g = r * 4 + c;
    grid.push({ left: colLeft[c], top: rowTop[r], width: GW, height: GH, outerBoundsMode: 'none', containLabel: false });
    xAxis.push(xAx(g, 'bottom', false, true, r === 4));
    xAxis.push(xAx(g, 'bottom', true, false, false));
    xAxis.push(xAx(g, 'top', false, true, false));
    xAxis.push(xAx(g, 'top', true, false, false));
    yAxis.push(yAx(g, 'left', false, true, c === 0));
    yAxis.push(yAx(g, 'left', true, false, false));
    yAxis.push(yAx(g, 'right', false, true, false));
    yAxis.push(yAx(g, 'right', true, false, false));
    const xi = g * 4, yi = g * 4;
    series.push({
      type: 'scatter', xAxisIndex: xi, yAxisIndex: yi, silent: true, z: 2,
      symbol: 'triangle', symbolSize: [9, 8],
      itemStyle: { color: 'rgba(255,255,255,0)', borderColor: '#9d9d9d', borderWidth: 1 },
      data: outer[r][c].concat(cores[r][c]).map(toXY)
    });
    series.push({
      type: 'line', xAxisIndex: xi, yAxisIndex: yi, silent: true, z: 3, smooth: 0.4,
      showSymbol: false, lineStyle: { color: '#000', width: 2, type: [4, 3] },
      data: ss14fnl[r][c].map(toXY)
    });
    series.push({
      type: 'line', xAxisIndex: xi, yAxisIndex: yi, silent: true, z: 3, smooth: 0.4,
      showSymbol: false, lineStyle: { color: '#000', width: 2 },
      data: fnl[r][c].map(toXY)
    });
    series.push({
      type: 'custom', xAxisIndex: xi, yAxisIndex: yi, silent: true, z: 4, renderItem: errorBar,
      encode: { x: 0, y: [1, 2] },
      data: means[r][c].filter(m => m[2] !== m[3]).map(m => [Math.pow(10, m[0]), m[2], m[3]])
    });
    series.push({
      type: 'scatter', xAxisIndex: xi, yAxisIndex: yi, silent: true, z: 5,
      symbol: 'circle', symbolSize: 10, itemStyle: { color: '#ff0000' },
      data: means[r][c].map(m => [Math.pow(10, m[0]), m[1]])
    });
    series.push({
      type: 'custom', xAxisIndex: xi, yAxisIndex: yi, silent: true, z: 6, renderItem: minorTick,
      encode: { x: 0, y: 1 }, data: xMinorTicks
    });
    if (r < 4) {
      title.push({
        text: '{f|f}{s|2}{t| = ' + f2Labels[r][c] + '}',
        left: colLeft[c] + 9, top: rowTop[r] + 127,
        padding: [7, 6, 6, 6], borderColor: '#000', borderWidth: 1.5, backgroundColor: '#fff',
        textStyle: { fontFamily: FONT, fontSize: 21, fontWeight: 'normal', color: '#000',
          rich: {
            f: { fontFamily: FONT, fontSize: 21, fontStyle: 'italic', fontWeight: 'normal', color: '#000' },
            s: { fontFamily: FONT, fontSize: 13, fontStyle: 'italic', fontWeight: 'normal', color: '#000', padding: [12, 0, 0, 0] },
            t: { fontFamily: FONT, fontSize: 21, fontWeight: 'normal', color: '#000' }
          } }
      });
    }
    if (r === 0) {
      title.push({
        text: periods[c], right: W - (colLeft[c] + GW - 12), top: rowTop[0] + 10,
        padding: [9, 5, 8, 5], borderColor: '#000', borderWidth: 1.5, backgroundColor: '#fff',
        textStyle: { fontFamily: FONT, fontSize: 20, fontWeight: 'bold', color: '#000' }
      });
    }
  }
}

// y-axis titles (column 1)
const richBold = (extra) => Object.assign({ fontFamily: FONT, fontSize: 17, fontWeight: 'bold', fill: '#000' }, extra || {});
for (let r = 0; r < 5; r++) {
  const cy = rowTop[r] + 86;
  gfx.push({
    type: 'text', x: 22, y: cy, rotation: Math.PI / 2, silent: true,
    style: {
      text: '{a|Corrected }{b|\u03B4W}{s|ij,R}', align: 'center', verticalAlign: 'middle',
      textAlign: 'center', textVerticalAlign: 'middle',
      rich: { a: richBold(), b: richBold({ fontStyle: 'italic' }), s: richBold({ fontStyle: 'italic', fontSize: 10, padding: [10, 0, 0, 0] }) }
    }
  });
  gfx.push({
    type: 'text', x: 47, y: cy, rotation: Math.PI / 2, silent: true,
    style: {
      text: '{a|' + vsLow[r] + ' \u2264 }{b|V}{s|S30}{a|' + vsHigh[r] + '}', align: 'center', verticalAlign: 'middle',
      textAlign: 'center', textVerticalAlign: 'middle',
      rich: { a: richBold(), b: richBold({ fontStyle: 'italic' }), s: richBold({ fontSize: 10, padding: [10, 0, 0, 0] }) }
    }
  });
}
// x-axis titles
for (let c = 0; c < 4; c++) {
  gfx.push({
    type: 'text', x: colLeft[c] + GW / 2, y: 1137, silent: true,
    style: {
      text: '{i|PGA}{s|R}{n| (g)}', align: 'center', verticalAlign: 'middle', textAlign: 'center', textVerticalAlign: 'middle',
      rich: { i: richBold({ fontStyle: 'italic' }), s: richBold({ fontStyle: 'italic', fontSize: 10, padding: [10, 0, 0, 0] }), n: richBold({ fontWeight: 'normal' }) }
    }
  });
}
// legend box
const legFont = { fontFamily: FONT, fontSize: 22, fontWeight: 'bold', fill: '#000', lineHeight: 28 };
gfx.push({ type: 'rect', silent: true, shape: { x: 197, y: 3, width: 951, height: 75 }, style: { fill: '#fff', stroke: '#000', lineWidth: 1.5 } });
gfx.push({ type: 'circle', silent: true, shape: { cx: 233, cy: 40, r: 4.5 }, style: { fill: '#ff0000' } });
gfx.push({ type: 'text', silent: true, x: 268, y: 40, style: Object.assign({ text: 'Binned Means\nand Stadard Errors', align: 'left', verticalAlign: 'middle', textAlign: 'left', textVerticalAlign: 'middle' }, legFont) });
gfx.push({ type: 'polygon', silent: true, shape: { points: [[495, 36.5], [491.5, 42.5], [498.5, 42.5]] }, style: { fill: 'none', stroke: '#9d9d9d', lineWidth: 1 } });
gfx.push({ type: 'text', silent: true, x: 533, y: 40, style: Object.assign({ text: 'Corrected Within-Event\nRock Residuals (\u03B4Wij,R)', align: 'left', verticalAlign: 'middle', textAlign: 'left', textVerticalAlign: 'middle' }, legFont) });
gfx.push({ type: 'line', silent: true, shape: { x1: 792, y1: 41, x2: 850, y2: 41 }, style: { stroke: '#000', lineWidth: 2 } });
gfx.push({ type: 'text', silent: true, x: 905, y: 40, style: Object.assign({ text: 'Proposed\nFNL', align: 'center', verticalAlign: 'middle', textAlign: 'center', textVerticalAlign: 'middle' }, legFont) });
gfx.push({ type: 'line', silent: true, shape: { x1: 963, y1: 41, x2: 1017, y2: 41 }, style: { stroke: '#000', lineWidth: 2, lineDash: [4, 3] } });
gfx.push({ type: 'text', silent: true, x: 1082, y: 40, style: Object.assign({ text: 'Calibrated\nSS14 FNL', align: 'center', verticalAlign: 'middle', textAlign: 'center', textVerticalAlign: 'middle' }, legFont) });

const chart = echarts.init(document.getElementById('c'), null, { renderer: 'canvas', width: 1251, height: 1150 });
chart.setOption({
  animation: false,
  backgroundColor: '#fff',
  textStyle: { fontFamily: FONT },
  title: title,
  grid: grid,
  xAxis: xAxis,
  yAxis: yAxis,
  series: series,
  graphic: { elements: gfx }
});
</script></body></html>
